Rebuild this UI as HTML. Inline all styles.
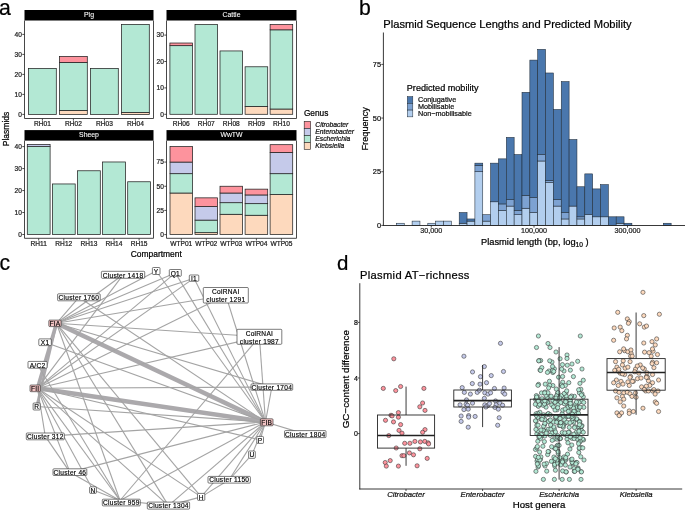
<!DOCTYPE html>
<html><head><meta charset="utf-8"><style>
html,body{margin:0;padding:0;background:#fff;overflow:hidden;}
svg{display:block;font-family:"Liberation Sans", sans-serif;will-change:transform;}

</style></head><body>
<svg width="685" height="511" viewBox="0 0 685 511">
<rect width="685" height="511" fill="#fff"/>
<text x="-0.90" y="15.20" font-size="21.2" text-anchor="start" fill="#000" stroke="#000" stroke-width="0.22" >a</text>
<rect x="24.50" y="10.00" width="129.00" height="10.50" fill="#000" stroke="none" stroke-width="0" />
<text x="89.00" y="17.30" font-size="6.9" text-anchor="middle" fill="#fff" stroke="#fff" stroke-width="0.08" >Pig</text>
<rect x="28.50" y="68.40" width="27.80" height="46.00" fill="#B3E8D4" stroke="#222" stroke-width="0.75" />
<line x1="42.40" y1="118.50" x2="42.40" y2="120.70" stroke="#222" stroke-width="0.8" />
<text x="42.40" y="125.90" font-size="6.6" text-anchor="middle" fill="#222" stroke="#222" stroke-width="0.22" >RH01</text>
<rect x="59.50" y="110.40" width="27.80" height="4.00" fill="#FDD9BD" stroke="#222" stroke-width="0.75" />
<rect x="59.50" y="62.40" width="27.80" height="48.00" fill="#B3E8D4" stroke="#222" stroke-width="0.75" />
<rect x="59.50" y="56.40" width="27.80" height="6.00" fill="#FD939D" stroke="#222" stroke-width="0.75" />
<line x1="73.40" y1="118.50" x2="73.40" y2="120.70" stroke="#222" stroke-width="0.8" />
<text x="73.40" y="125.90" font-size="6.6" text-anchor="middle" fill="#222" stroke="#222" stroke-width="0.22" >RH02</text>
<rect x="90.50" y="68.40" width="27.80" height="46.00" fill="#B3E8D4" stroke="#222" stroke-width="0.75" />
<line x1="104.40" y1="118.50" x2="104.40" y2="120.70" stroke="#222" stroke-width="0.8" />
<text x="104.40" y="125.90" font-size="6.6" text-anchor="middle" fill="#222" stroke="#222" stroke-width="0.22" >RH03</text>
<rect x="121.50" y="112.40" width="27.80" height="2.00" fill="#FDD9BD" stroke="#222" stroke-width="0.75" />
<rect x="121.50" y="24.40" width="27.80" height="88.00" fill="#B3E8D4" stroke="#222" stroke-width="0.75" />
<line x1="135.40" y1="118.50" x2="135.40" y2="120.70" stroke="#222" stroke-width="0.8" />
<text x="135.40" y="125.90" font-size="6.6" text-anchor="middle" fill="#222" stroke="#222" stroke-width="0.22" >RH04</text>
<path d="M24.50,20.50 V118.50 H153.50 V20.50" fill="none" stroke="#333333" stroke-width="0.9"/>
<line x1="22.30" y1="114.40" x2="24.50" y2="114.40" stroke="#222" stroke-width="0.8" />
<text x="21.90" y="116.70" font-size="6.6" text-anchor="end" fill="#222" stroke="#222" stroke-width="0.22" >0</text>
<line x1="22.30" y1="94.40" x2="24.50" y2="94.40" stroke="#222" stroke-width="0.8" />
<text x="21.90" y="96.70" font-size="6.6" text-anchor="end" fill="#222" stroke="#222" stroke-width="0.22" >10</text>
<line x1="22.30" y1="74.40" x2="24.50" y2="74.40" stroke="#222" stroke-width="0.8" />
<text x="21.90" y="76.70" font-size="6.6" text-anchor="end" fill="#222" stroke="#222" stroke-width="0.22" >20</text>
<line x1="22.30" y1="54.40" x2="24.50" y2="54.40" stroke="#222" stroke-width="0.8" />
<text x="21.90" y="56.70" font-size="6.6" text-anchor="end" fill="#222" stroke="#222" stroke-width="0.22" >30</text>
<line x1="22.30" y1="34.40" x2="24.50" y2="34.40" stroke="#222" stroke-width="0.8" />
<text x="21.90" y="36.70" font-size="6.6" text-anchor="end" fill="#222" stroke="#222" stroke-width="0.22" >40</text>
<rect x="166.50" y="10.00" width="130.00" height="10.50" fill="#000" stroke="none" stroke-width="0" />
<text x="231.50" y="17.30" font-size="6.9" text-anchor="middle" fill="#fff" stroke="#fff" stroke-width="0.08" >Cattle</text>
<rect x="169.90" y="45.66" width="22.60" height="68.64" fill="#B3E8D4" stroke="#222" stroke-width="0.75" />
<rect x="169.90" y="43.02" width="22.60" height="2.64" fill="#FD939D" stroke="#222" stroke-width="0.75" />
<line x1="181.20" y1="118.50" x2="181.20" y2="120.70" stroke="#222" stroke-width="0.8" />
<text x="181.20" y="125.90" font-size="6.6" text-anchor="middle" fill="#222" stroke="#222" stroke-width="0.22" >RH06</text>
<rect x="195.00" y="24.54" width="22.60" height="89.76" fill="#B3E8D4" stroke="#222" stroke-width="0.75" />
<line x1="206.30" y1="118.50" x2="206.30" y2="120.70" stroke="#222" stroke-width="0.8" />
<text x="206.30" y="125.90" font-size="6.6" text-anchor="middle" fill="#222" stroke="#222" stroke-width="0.22" >RH07</text>
<rect x="220.00" y="50.94" width="22.60" height="63.36" fill="#B3E8D4" stroke="#222" stroke-width="0.75" />
<line x1="231.30" y1="118.50" x2="231.30" y2="120.70" stroke="#222" stroke-width="0.8" />
<text x="231.30" y="125.90" font-size="6.6" text-anchor="middle" fill="#222" stroke="#222" stroke-width="0.22" >RH08</text>
<rect x="245.10" y="106.38" width="22.60" height="7.92" fill="#FDD9BD" stroke="#222" stroke-width="0.75" />
<rect x="245.10" y="66.78" width="22.60" height="39.60" fill="#B3E8D4" stroke="#222" stroke-width="0.75" />
<line x1="256.40" y1="118.50" x2="256.40" y2="120.70" stroke="#222" stroke-width="0.8" />
<text x="256.40" y="125.90" font-size="6.6" text-anchor="middle" fill="#222" stroke="#222" stroke-width="0.22" >RH09</text>
<rect x="270.10" y="109.02" width="22.60" height="5.28" fill="#FDD9BD" stroke="#222" stroke-width="0.75" />
<rect x="270.10" y="29.82" width="22.60" height="79.20" fill="#B3E8D4" stroke="#222" stroke-width="0.75" />
<rect x="270.10" y="24.54" width="22.60" height="5.28" fill="#FD939D" stroke="#222" stroke-width="0.75" />
<line x1="281.40" y1="118.50" x2="281.40" y2="120.70" stroke="#222" stroke-width="0.8" />
<text x="281.40" y="125.90" font-size="6.6" text-anchor="middle" fill="#222" stroke="#222" stroke-width="0.22" >RH10</text>
<path d="M166.50,20.50 V118.50 H296.50 V20.50" fill="none" stroke="#333333" stroke-width="0.9"/>
<line x1="164.30" y1="114.30" x2="166.50" y2="114.30" stroke="#222" stroke-width="0.8" />
<text x="163.90" y="116.60" font-size="6.6" text-anchor="end" fill="#222" stroke="#222" stroke-width="0.22" >0</text>
<line x1="164.30" y1="87.90" x2="166.50" y2="87.90" stroke="#222" stroke-width="0.8" />
<text x="163.90" y="90.20" font-size="6.6" text-anchor="end" fill="#222" stroke="#222" stroke-width="0.22" >10</text>
<line x1="164.30" y1="61.50" x2="166.50" y2="61.50" stroke="#222" stroke-width="0.8" />
<text x="163.90" y="63.80" font-size="6.6" text-anchor="end" fill="#222" stroke="#222" stroke-width="0.22" >20</text>
<line x1="164.30" y1="35.10" x2="166.50" y2="35.10" stroke="#222" stroke-width="0.8" />
<text x="163.90" y="37.40" font-size="6.6" text-anchor="end" fill="#222" stroke="#222" stroke-width="0.22" >30</text>
<rect x="24.50" y="130.10" width="129.00" height="10.50" fill="#000" stroke="none" stroke-width="0" />
<text x="89.00" y="137.40" font-size="6.9" text-anchor="middle" fill="#fff" stroke="#fff" stroke-width="0.08" >Sheep</text>
<rect x="27.30" y="146.60" width="22.80" height="87.90" fill="#B3E8D4" stroke="#222" stroke-width="0.75" />
<rect x="27.30" y="144.40" width="22.80" height="2.20" fill="#C5CAEA" stroke="#222" stroke-width="0.75" />
<line x1="38.70" y1="238.30" x2="38.70" y2="240.50" stroke="#222" stroke-width="0.8" />
<text x="38.70" y="245.70" font-size="6.6" text-anchor="middle" fill="#222" stroke="#222" stroke-width="0.22" >RH11</text>
<rect x="52.40" y="183.96" width="22.80" height="50.54" fill="#B3E8D4" stroke="#222" stroke-width="0.75" />
<line x1="63.80" y1="238.30" x2="63.80" y2="240.50" stroke="#222" stroke-width="0.8" />
<text x="63.80" y="245.70" font-size="6.6" text-anchor="middle" fill="#222" stroke="#222" stroke-width="0.22" >RH12</text>
<rect x="77.50" y="170.77" width="22.80" height="63.73" fill="#B3E8D4" stroke="#222" stroke-width="0.75" />
<line x1="88.90" y1="238.30" x2="88.90" y2="240.50" stroke="#222" stroke-width="0.8" />
<text x="88.90" y="245.70" font-size="6.6" text-anchor="middle" fill="#222" stroke="#222" stroke-width="0.22" >RH13</text>
<rect x="102.60" y="161.98" width="22.80" height="72.52" fill="#B3E8D4" stroke="#222" stroke-width="0.75" />
<line x1="114.00" y1="238.30" x2="114.00" y2="240.50" stroke="#222" stroke-width="0.8" />
<text x="114.00" y="245.70" font-size="6.6" text-anchor="middle" fill="#222" stroke="#222" stroke-width="0.22" >RH14</text>
<rect x="127.70" y="181.76" width="22.80" height="52.74" fill="#B3E8D4" stroke="#222" stroke-width="0.75" />
<line x1="139.10" y1="238.30" x2="139.10" y2="240.50" stroke="#222" stroke-width="0.8" />
<text x="139.10" y="245.70" font-size="6.6" text-anchor="middle" fill="#222" stroke="#222" stroke-width="0.22" >RH15</text>
<path d="M24.50,140.60 V238.30 H153.50 V140.60" fill="none" stroke="#333333" stroke-width="0.9"/>
<line x1="22.30" y1="234.50" x2="24.50" y2="234.50" stroke="#222" stroke-width="0.8" />
<text x="21.90" y="236.80" font-size="6.6" text-anchor="end" fill="#222" stroke="#222" stroke-width="0.22" >0</text>
<line x1="22.30" y1="212.53" x2="24.50" y2="212.53" stroke="#222" stroke-width="0.8" />
<text x="21.90" y="214.83" font-size="6.6" text-anchor="end" fill="#222" stroke="#222" stroke-width="0.22" >10</text>
<line x1="22.30" y1="190.55" x2="24.50" y2="190.55" stroke="#222" stroke-width="0.8" />
<text x="21.90" y="192.85" font-size="6.6" text-anchor="end" fill="#222" stroke="#222" stroke-width="0.22" >20</text>
<line x1="22.30" y1="168.57" x2="24.50" y2="168.57" stroke="#222" stroke-width="0.8" />
<text x="21.90" y="170.88" font-size="6.6" text-anchor="end" fill="#222" stroke="#222" stroke-width="0.22" >30</text>
<line x1="22.30" y1="146.60" x2="24.50" y2="146.60" stroke="#222" stroke-width="0.8" />
<text x="21.90" y="148.90" font-size="6.6" text-anchor="end" fill="#222" stroke="#222" stroke-width="0.22" >40</text>
<rect x="166.50" y="130.10" width="130.00" height="10.50" fill="#000" stroke="none" stroke-width="0" />
<text x="231.50" y="137.40" font-size="6.9" text-anchor="middle" fill="#fff" stroke="#fff" stroke-width="0.08" >WwTW</text>
<rect x="170.00" y="193.02" width="22.60" height="41.58" fill="#FDD9BD" stroke="#222" stroke-width="0.75" />
<rect x="170.00" y="173.68" width="22.60" height="19.34" fill="#B3E8D4" stroke="#222" stroke-width="0.75" />
<rect x="170.00" y="162.07" width="22.60" height="11.60" fill="#C5CAEA" stroke="#222" stroke-width="0.75" />
<rect x="170.00" y="146.60" width="22.60" height="15.47" fill="#FD939D" stroke="#222" stroke-width="0.75" />
<line x1="181.30" y1="238.30" x2="181.30" y2="240.50" stroke="#222" stroke-width="0.8" />
<text x="181.30" y="245.70" font-size="6.6" text-anchor="middle" fill="#222" stroke="#222" stroke-width="0.22" >WTP01</text>
<rect x="195.00" y="232.67" width="22.60" height="1.93" fill="#FDD9BD" stroke="#222" stroke-width="0.75" />
<rect x="195.00" y="220.09" width="22.60" height="12.57" fill="#B3E8D4" stroke="#222" stroke-width="0.75" />
<rect x="195.00" y="206.56" width="22.60" height="13.54" fill="#C5CAEA" stroke="#222" stroke-width="0.75" />
<rect x="195.00" y="197.85" width="22.60" height="8.70" fill="#FD939D" stroke="#222" stroke-width="0.75" />
<line x1="206.30" y1="238.30" x2="206.30" y2="240.50" stroke="#222" stroke-width="0.8" />
<text x="206.30" y="245.70" font-size="6.6" text-anchor="middle" fill="#222" stroke="#222" stroke-width="0.22" >WTP02</text>
<rect x="220.00" y="214.29" width="22.60" height="20.31" fill="#FDD9BD" stroke="#222" stroke-width="0.75" />
<rect x="220.00" y="202.69" width="22.60" height="11.60" fill="#B3E8D4" stroke="#222" stroke-width="0.75" />
<rect x="220.00" y="193.02" width="22.60" height="9.67" fill="#C5CAEA" stroke="#222" stroke-width="0.75" />
<rect x="220.00" y="186.25" width="22.60" height="6.77" fill="#FD939D" stroke="#222" stroke-width="0.75" />
<line x1="231.30" y1="238.30" x2="231.30" y2="240.50" stroke="#222" stroke-width="0.8" />
<text x="231.30" y="245.70" font-size="6.6" text-anchor="middle" fill="#222" stroke="#222" stroke-width="0.22" >WTP03</text>
<rect x="245.10" y="215.26" width="22.60" height="19.34" fill="#FDD9BD" stroke="#222" stroke-width="0.75" />
<rect x="245.10" y="203.66" width="22.60" height="11.60" fill="#B3E8D4" stroke="#222" stroke-width="0.75" />
<rect x="245.10" y="194.95" width="22.60" height="8.70" fill="#C5CAEA" stroke="#222" stroke-width="0.75" />
<rect x="245.10" y="189.15" width="22.60" height="5.80" fill="#FD939D" stroke="#222" stroke-width="0.75" />
<line x1="256.40" y1="238.30" x2="256.40" y2="240.50" stroke="#222" stroke-width="0.8" />
<text x="256.40" y="245.70" font-size="6.6" text-anchor="middle" fill="#222" stroke="#222" stroke-width="0.22" >WTP04</text>
<rect x="270.10" y="194.47" width="22.60" height="40.13" fill="#FDD9BD" stroke="#222" stroke-width="0.75" />
<rect x="270.10" y="173.68" width="22.60" height="20.79" fill="#B3E8D4" stroke="#222" stroke-width="0.75" />
<rect x="270.10" y="152.41" width="22.60" height="21.27" fill="#C5CAEA" stroke="#222" stroke-width="0.75" />
<rect x="270.10" y="144.67" width="22.60" height="7.74" fill="#FD939D" stroke="#222" stroke-width="0.75" />
<line x1="281.40" y1="238.30" x2="281.40" y2="240.50" stroke="#222" stroke-width="0.8" />
<text x="281.40" y="245.70" font-size="6.6" text-anchor="middle" fill="#222" stroke="#222" stroke-width="0.22" >WTP05</text>
<path d="M166.50,140.60 V238.30 H296.50 V140.60" fill="none" stroke="#333333" stroke-width="0.9"/>
<line x1="164.30" y1="234.60" x2="166.50" y2="234.60" stroke="#222" stroke-width="0.8" />
<text x="163.90" y="236.90" font-size="6.6" text-anchor="end" fill="#222" stroke="#222" stroke-width="0.22" >0</text>
<line x1="164.30" y1="210.42" x2="166.50" y2="210.42" stroke="#222" stroke-width="0.8" />
<text x="163.90" y="212.72" font-size="6.6" text-anchor="end" fill="#222" stroke="#222" stroke-width="0.22" >25</text>
<line x1="164.30" y1="186.25" x2="166.50" y2="186.25" stroke="#222" stroke-width="0.8" />
<text x="163.90" y="188.55" font-size="6.6" text-anchor="end" fill="#222" stroke="#222" stroke-width="0.22" >50</text>
<line x1="164.30" y1="162.07" x2="166.50" y2="162.07" stroke="#222" stroke-width="0.8" />
<text x="163.90" y="164.38" font-size="6.6" text-anchor="end" fill="#222" stroke="#222" stroke-width="0.22" >75</text>
<text x="0" y="0" font-size="8.5" text-anchor="middle" transform="translate(8.6,129) rotate(-90)" stroke="#000" stroke-width="0.22">Plasmids</text>
<text x="156.30" y="257.00" font-size="8.45" text-anchor="middle" fill="#000" stroke="#000" stroke-width="0.22" >Compartment</text>
<text x="303.90" y="115.90" font-size="8.3" text-anchor="start" fill="#000" stroke="#000" stroke-width="0.22" >Genus</text>
<rect x="304.20" y="121.30" width="6.40" height="7.05" fill="#FD939D" stroke="#222" stroke-width="0.6" />
<text x="315.30" y="127.20" font-size="6.75" text-anchor="start" fill="#111" stroke="#111" stroke-width="0.22" font-style="italic">Citrobacter</text>
<rect x="304.20" y="128.35" width="6.40" height="7.05" fill="#C5CAEA" stroke="#222" stroke-width="0.6" />
<text x="315.30" y="134.25" font-size="6.75" text-anchor="start" fill="#111" stroke="#111" stroke-width="0.22" font-style="italic">Enterobacter</text>
<rect x="304.20" y="135.40" width="6.40" height="7.05" fill="#B3E8D4" stroke="#222" stroke-width="0.6" />
<text x="315.30" y="141.30" font-size="6.75" text-anchor="start" fill="#111" stroke="#111" stroke-width="0.22" font-style="italic">Escherichia</text>
<rect x="304.20" y="142.45" width="6.40" height="7.05" fill="#FDD9BD" stroke="#222" stroke-width="0.6" />
<text x="315.30" y="148.35" font-size="6.75" text-anchor="start" fill="#111" stroke="#111" stroke-width="0.22" font-style="italic">Klebsiella</text>
<text x="358.90" y="15.00" font-size="21.2" text-anchor="start" fill="#000" stroke="#000" stroke-width="0.22" >b</text>
<text x="383.30" y="27.75" font-size="11.15" text-anchor="start" fill="#000" stroke="#000" stroke-width="0.22" >Plasmid Sequence Lengths and Predicted Mobility</text>
<rect x="396.40" y="223.25" width="7.85" height="2.15" fill="#B2CEEE" stroke="#1f2a36" stroke-width="0.55" />
<rect x="412.10" y="221.11" width="7.85" height="4.29" fill="#B2CEEE" stroke="#1f2a36" stroke-width="0.55" />
<rect x="427.80" y="223.25" width="7.85" height="2.15" fill="#B2CEEE" stroke="#1f2a36" stroke-width="0.55" />
<rect x="435.65" y="221.11" width="7.85" height="4.29" fill="#B2CEEE" stroke="#1f2a36" stroke-width="0.55" />
<rect x="443.50" y="221.11" width="7.85" height="4.29" fill="#B2CEEE" stroke="#1f2a36" stroke-width="0.55" />
<rect x="459.20" y="223.25" width="7.85" height="2.15" fill="#B2CEEE" stroke="#1f2a36" stroke-width="0.55" />
<rect x="459.20" y="212.52" width="7.85" height="10.73" fill="#4A77AD" stroke="#1f2a36" stroke-width="0.55" />
<rect x="467.05" y="221.11" width="7.85" height="4.29" fill="#B2CEEE" stroke="#1f2a36" stroke-width="0.55" />
<rect x="467.05" y="218.96" width="7.85" height="2.15" fill="#4A77AD" stroke="#1f2a36" stroke-width="0.55" />
<rect x="474.90" y="171.73" width="7.85" height="53.67" fill="#B2CEEE" stroke="#1f2a36" stroke-width="0.55" />
<rect x="474.90" y="165.29" width="7.85" height="6.44" fill="#7DA2D2" stroke="#1f2a36" stroke-width="0.55" />
<rect x="474.90" y="163.15" width="7.85" height="2.15" fill="#4A77AD" stroke="#1f2a36" stroke-width="0.55" />
<rect x="482.75" y="221.11" width="7.85" height="4.29" fill="#B2CEEE" stroke="#1f2a36" stroke-width="0.55" />
<rect x="482.75" y="214.67" width="7.85" height="6.44" fill="#7DA2D2" stroke="#1f2a36" stroke-width="0.55" />
<rect x="490.60" y="201.79" width="7.85" height="23.61" fill="#B2CEEE" stroke="#1f2a36" stroke-width="0.55" />
<rect x="490.60" y="163.15" width="7.85" height="38.64" fill="#4A77AD" stroke="#1f2a36" stroke-width="0.55" />
<rect x="498.45" y="210.37" width="7.85" height="15.03" fill="#B2CEEE" stroke="#1f2a36" stroke-width="0.55" />
<rect x="498.45" y="203.93" width="7.85" height="6.44" fill="#7DA2D2" stroke="#1f2a36" stroke-width="0.55" />
<rect x="498.45" y="158.85" width="7.85" height="45.08" fill="#4A77AD" stroke="#1f2a36" stroke-width="0.55" />
<rect x="506.30" y="206.08" width="7.85" height="19.32" fill="#B2CEEE" stroke="#1f2a36" stroke-width="0.55" />
<rect x="506.30" y="199.64" width="7.85" height="6.44" fill="#7DA2D2" stroke="#1f2a36" stroke-width="0.55" />
<rect x="506.30" y="137.39" width="7.85" height="62.25" fill="#4A77AD" stroke="#1f2a36" stroke-width="0.55" />
<rect x="514.15" y="214.67" width="7.85" height="10.73" fill="#B2CEEE" stroke="#1f2a36" stroke-width="0.55" />
<rect x="514.15" y="210.37" width="7.85" height="4.29" fill="#7DA2D2" stroke="#1f2a36" stroke-width="0.55" />
<rect x="514.15" y="154.56" width="7.85" height="55.81" fill="#4A77AD" stroke="#1f2a36" stroke-width="0.55" />
<rect x="522.00" y="208.23" width="7.85" height="17.17" fill="#B2CEEE" stroke="#1f2a36" stroke-width="0.55" />
<rect x="522.00" y="195.35" width="7.85" height="12.88" fill="#7DA2D2" stroke="#1f2a36" stroke-width="0.55" />
<rect x="522.00" y="92.30" width="7.85" height="103.04" fill="#4A77AD" stroke="#1f2a36" stroke-width="0.55" />
<rect x="529.85" y="212.52" width="7.85" height="12.88" fill="#B2CEEE" stroke="#1f2a36" stroke-width="0.55" />
<rect x="529.85" y="197.49" width="7.85" height="15.03" fill="#7DA2D2" stroke="#1f2a36" stroke-width="0.55" />
<rect x="529.85" y="60.10" width="7.85" height="137.39" fill="#4A77AD" stroke="#1f2a36" stroke-width="0.55" />
<rect x="537.70" y="161.00" width="7.85" height="64.40" fill="#B2CEEE" stroke="#1f2a36" stroke-width="0.55" />
<rect x="537.70" y="154.56" width="7.85" height="6.44" fill="#7DA2D2" stroke="#1f2a36" stroke-width="0.55" />
<rect x="537.70" y="49.37" width="7.85" height="105.19" fill="#4A77AD" stroke="#1f2a36" stroke-width="0.55" />
<rect x="545.55" y="182.47" width="7.85" height="42.93" fill="#B2CEEE" stroke="#1f2a36" stroke-width="0.55" />
<rect x="545.55" y="180.32" width="7.85" height="2.15" fill="#7DA2D2" stroke="#1f2a36" stroke-width="0.55" />
<rect x="545.55" y="72.98" width="7.85" height="107.34" fill="#4A77AD" stroke="#1f2a36" stroke-width="0.55" />
<rect x="553.40" y="206.08" width="7.85" height="19.32" fill="#B2CEEE" stroke="#1f2a36" stroke-width="0.55" />
<rect x="553.40" y="199.64" width="7.85" height="6.44" fill="#7DA2D2" stroke="#1f2a36" stroke-width="0.55" />
<rect x="553.40" y="109.48" width="7.85" height="90.16" fill="#4A77AD" stroke="#1f2a36" stroke-width="0.55" />
<rect x="561.25" y="218.96" width="7.85" height="6.44" fill="#B2CEEE" stroke="#1f2a36" stroke-width="0.55" />
<rect x="561.25" y="212.52" width="7.85" height="6.44" fill="#7DA2D2" stroke="#1f2a36" stroke-width="0.55" />
<rect x="561.25" y="81.57" width="7.85" height="130.95" fill="#4A77AD" stroke="#1f2a36" stroke-width="0.55" />
<rect x="569.10" y="206.08" width="7.85" height="19.32" fill="#B2CEEE" stroke="#1f2a36" stroke-width="0.55" />
<rect x="569.10" y="139.53" width="7.85" height="66.55" fill="#4A77AD" stroke="#1f2a36" stroke-width="0.55" />
<rect x="576.95" y="218.96" width="7.85" height="6.44" fill="#B2CEEE" stroke="#1f2a36" stroke-width="0.55" />
<rect x="576.95" y="216.81" width="7.85" height="2.15" fill="#7DA2D2" stroke="#1f2a36" stroke-width="0.55" />
<rect x="576.95" y="186.76" width="7.85" height="30.05" fill="#4A77AD" stroke="#1f2a36" stroke-width="0.55" />
<rect x="584.80" y="214.67" width="7.85" height="10.73" fill="#B2CEEE" stroke="#1f2a36" stroke-width="0.55" />
<rect x="584.80" y="173.88" width="7.85" height="40.79" fill="#4A77AD" stroke="#1f2a36" stroke-width="0.55" />
<rect x="592.65" y="216.81" width="7.85" height="8.59" fill="#B2CEEE" stroke="#1f2a36" stroke-width="0.55" />
<rect x="592.65" y="188.91" width="7.85" height="27.91" fill="#4A77AD" stroke="#1f2a36" stroke-width="0.55" />
<rect x="600.50" y="216.81" width="7.85" height="8.59" fill="#B2CEEE" stroke="#1f2a36" stroke-width="0.55" />
<rect x="600.50" y="184.61" width="7.85" height="32.20" fill="#4A77AD" stroke="#1f2a36" stroke-width="0.55" />
<rect x="608.35" y="216.81" width="7.85" height="8.59" fill="#4A77AD" stroke="#1f2a36" stroke-width="0.55" />
<rect x="616.20" y="223.25" width="7.85" height="2.15" fill="#B2CEEE" stroke="#1f2a36" stroke-width="0.55" />
<rect x="616.20" y="216.81" width="7.85" height="6.44" fill="#4A77AD" stroke="#1f2a36" stroke-width="0.55" />
<rect x="624.05" y="223.25" width="7.85" height="2.15" fill="#4A77AD" stroke="#1f2a36" stroke-width="0.55" />
<rect x="663.30" y="223.25" width="7.85" height="2.15" fill="#4A77AD" stroke="#1f2a36" stroke-width="0.55" />
<line x1="383.40" y1="32.50" x2="383.40" y2="225.90" stroke="#222" stroke-width="0.9" />
<line x1="383.00" y1="225.50" x2="685.00" y2="225.50" stroke="#222" stroke-width="0.9" />
<line x1="381.30" y1="225.40" x2="383.40" y2="225.40" stroke="#222" stroke-width="0.8" />
<text x="381.00" y="228.10" font-size="7.4" text-anchor="end" fill="#111" stroke="#111" stroke-width="0.22" >0</text>
<line x1="381.30" y1="171.73" x2="383.40" y2="171.73" stroke="#222" stroke-width="0.8" />
<text x="381.00" y="174.43" font-size="7.4" text-anchor="end" fill="#111" stroke="#111" stroke-width="0.22" >25</text>
<line x1="381.30" y1="118.06" x2="383.40" y2="118.06" stroke="#222" stroke-width="0.8" />
<text x="381.00" y="120.77" font-size="7.4" text-anchor="end" fill="#111" stroke="#111" stroke-width="0.22" >50</text>
<line x1="381.30" y1="64.40" x2="383.40" y2="64.40" stroke="#222" stroke-width="0.8" />
<text x="381.00" y="67.10" font-size="7.4" text-anchor="end" fill="#111" stroke="#111" stroke-width="0.22" >75</text>
<line x1="431.25" y1="225.50" x2="431.25" y2="227.60" stroke="#222" stroke-width="0.8" />
<text x="431.25" y="233.00" font-size="7.2" text-anchor="middle" fill="#222" stroke="#222" stroke-width="0.22" >30,000</text>
<line x1="534.00" y1="225.50" x2="534.00" y2="227.60" stroke="#222" stroke-width="0.8" />
<text x="534.00" y="233.00" font-size="7.2" text-anchor="middle" fill="#222" stroke="#222" stroke-width="0.22" >100,000</text>
<line x1="627.50" y1="225.50" x2="627.50" y2="227.60" stroke="#222" stroke-width="0.8" />
<text x="627.50" y="233.00" font-size="7.2" text-anchor="middle" fill="#222" stroke="#222" stroke-width="0.22" >300,000</text>
<text x="0" y="0" font-size="9.2" text-anchor="middle" transform="translate(367.7,128.8) rotate(-90)" stroke="#000" stroke-width="0.22">Frequency</text>
<text x="481" y="244.7" font-size="9.3" stroke="#000" stroke-width="0.22">Plasmid length (bp, log<tspan font-size="6.6" dy="1.8">10</tspan><tspan dy="-1.8"> )</tspan></text>
<text x="406.80" y="90.80" font-size="9.1" text-anchor="start" fill="#000" stroke="#000" stroke-width="0.22" >Predicted mobility</text>
<rect x="407.30" y="96.60" width="5.50" height="6.75" fill="#4A77AD" stroke="#1f2a36" stroke-width="0.5" />
<text x="417.90" y="102.00" font-size="7.25" text-anchor="start" fill="#111" stroke="#111" stroke-width="0.22" >Conjugative</text>
<rect x="407.30" y="103.35" width="5.50" height="6.75" fill="#7DA2D2" stroke="#1f2a36" stroke-width="0.5" />
<text x="417.90" y="108.75" font-size="7.25" text-anchor="start" fill="#111" stroke="#111" stroke-width="0.22" >Mobilisable</text>
<rect x="407.30" y="110.10" width="5.50" height="6.75" fill="#B2CEEE" stroke="#1f2a36" stroke-width="0.5" />
<text x="417.90" y="115.50" font-size="7.25" text-anchor="start" fill="#111" stroke="#111" stroke-width="0.22" >Non−mobilisable</text>
<text x="-0.40" y="270.00" font-size="21.2" text-anchor="start" fill="#000" stroke="#000" stroke-width="0.22" >c</text>
<line x1="56.50" y1="323.30" x2="265.50" y2="422.00" stroke="#aba9ac" stroke-width="4.4"/>
<line x1="37.50" y1="388.20" x2="265.50" y2="422.00" stroke="#aba9ac" stroke-width="4.4"/>
<line x1="56.50" y1="323.30" x2="37.50" y2="388.20" stroke="#aba9ac" stroke-width="3.6"/>
<line x1="56.50" y1="323.30" x2="36.65" y2="406.50" stroke="#aba9ac" stroke-width="2.6"/>
<line x1="265.50" y1="422.00" x2="156.20" y2="271.00" stroke="#a4a4a4" stroke-width="1.1"/>
<line x1="265.50" y1="422.00" x2="175.30" y2="272.90" stroke="#a4a4a4" stroke-width="1.1"/>
<line x1="265.50" y1="422.00" x2="194.05" y2="278.15" stroke="#a4a4a4" stroke-width="1.1"/>
<line x1="265.50" y1="422.00" x2="225.80" y2="295.25" stroke="#a4a4a4" stroke-width="1.1"/>
<line x1="265.50" y1="422.00" x2="259.40" y2="336.80" stroke="#a4a4a4" stroke-width="1.1"/>
<line x1="265.50" y1="422.00" x2="271.85" y2="387.10" stroke="#a4a4a4" stroke-width="1.1"/>
<line x1="265.50" y1="422.00" x2="78.90" y2="297.30" stroke="#a4a4a4" stroke-width="1.1"/>
<line x1="265.50" y1="422.00" x2="45.05" y2="342.25" stroke="#a4a4a4" stroke-width="1.1"/>
<line x1="265.50" y1="422.00" x2="36.65" y2="406.50" stroke="#a4a4a4" stroke-width="1.1"/>
<line x1="265.50" y1="422.00" x2="45.30" y2="436.40" stroke="#a4a4a4" stroke-width="1.1"/>
<line x1="265.50" y1="422.00" x2="69.90" y2="472.15" stroke="#a4a4a4" stroke-width="1.1"/>
<line x1="265.50" y1="422.00" x2="120.00" y2="500.50" stroke="#a4a4a4" stroke-width="1.1"/>
<line x1="265.50" y1="422.00" x2="168.45" y2="505.60" stroke="#a4a4a4" stroke-width="1.1"/>
<line x1="265.50" y1="422.00" x2="201.15" y2="496.90" stroke="#a4a4a4" stroke-width="1.1"/>
<line x1="265.50" y1="422.00" x2="229.20" y2="479.75" stroke="#a4a4a4" stroke-width="1.1"/>
<line x1="265.50" y1="422.00" x2="251.95" y2="454.65" stroke="#a4a4a4" stroke-width="1.1"/>
<line x1="265.50" y1="422.00" x2="260.15" y2="439.90" stroke="#a4a4a4" stroke-width="1.1"/>
<line x1="265.50" y1="422.00" x2="305.25" y2="434.10" stroke="#a4a4a4" stroke-width="1.1"/>
<line x1="56.50" y1="323.30" x2="78.90" y2="297.30" stroke="#a4a4a4" stroke-width="1.1"/>
<line x1="56.50" y1="323.30" x2="123.05" y2="274.80" stroke="#a4a4a4" stroke-width="1.1"/>
<line x1="56.50" y1="323.30" x2="156.20" y2="271.00" stroke="#a4a4a4" stroke-width="1.1"/>
<line x1="56.50" y1="323.30" x2="175.30" y2="272.90" stroke="#a4a4a4" stroke-width="1.1"/>
<line x1="56.50" y1="323.30" x2="194.05" y2="278.15" stroke="#a4a4a4" stroke-width="1.1"/>
<line x1="56.50" y1="323.30" x2="225.80" y2="295.25" stroke="#a4a4a4" stroke-width="1.1"/>
<line x1="56.50" y1="323.30" x2="259.40" y2="336.80" stroke="#a4a4a4" stroke-width="1.1"/>
<line x1="56.50" y1="323.30" x2="271.85" y2="387.10" stroke="#a4a4a4" stroke-width="1.1"/>
<line x1="56.50" y1="323.30" x2="120.00" y2="500.50" stroke="#a4a4a4" stroke-width="1.1"/>
<line x1="56.50" y1="323.30" x2="168.45" y2="505.60" stroke="#a4a4a4" stroke-width="1.1"/>
<line x1="56.50" y1="323.30" x2="201.15" y2="496.90" stroke="#a4a4a4" stroke-width="1.1"/>
<line x1="37.50" y1="388.20" x2="123.05" y2="274.80" stroke="#a4a4a4" stroke-width="1.1"/>
<line x1="37.50" y1="388.20" x2="175.30" y2="272.90" stroke="#a4a4a4" stroke-width="1.1"/>
<line x1="37.50" y1="388.20" x2="194.05" y2="278.15" stroke="#a4a4a4" stroke-width="1.1"/>
<line x1="37.50" y1="388.20" x2="225.80" y2="295.25" stroke="#a4a4a4" stroke-width="1.1"/>
<line x1="37.50" y1="388.20" x2="259.40" y2="336.80" stroke="#a4a4a4" stroke-width="1.1"/>
<line x1="37.50" y1="388.20" x2="271.85" y2="387.10" stroke="#a4a4a4" stroke-width="1.1"/>
<line x1="37.50" y1="388.20" x2="260.15" y2="439.90" stroke="#a4a4a4" stroke-width="1.1"/>
<line x1="37.50" y1="388.20" x2="45.30" y2="436.40" stroke="#a4a4a4" stroke-width="1.1"/>
<line x1="37.50" y1="388.20" x2="69.90" y2="472.15" stroke="#a4a4a4" stroke-width="1.1"/>
<line x1="37.50" y1="388.20" x2="93.00" y2="490.10" stroke="#a4a4a4" stroke-width="1.1"/>
<line x1="37.50" y1="388.20" x2="120.00" y2="500.50" stroke="#a4a4a4" stroke-width="1.1"/>
<line x1="37.50" y1="388.20" x2="168.45" y2="505.60" stroke="#a4a4a4" stroke-width="1.1"/>
<line x1="37.50" y1="388.20" x2="201.15" y2="496.90" stroke="#a4a4a4" stroke-width="1.1"/>
<line x1="45.30" y1="436.40" x2="69.90" y2="472.15" stroke="#a4a4a4" stroke-width="1.1"/>
<line x1="201.15" y1="496.90" x2="168.45" y2="505.60" stroke="#a4a4a4" stroke-width="1.1"/>
<line x1="201.15" y1="496.90" x2="229.20" y2="479.75" stroke="#a4a4a4" stroke-width="1.1"/>
<line x1="120.00" y1="500.50" x2="69.90" y2="472.15" stroke="#a4a4a4" stroke-width="1.1"/>
<line x1="120.00" y1="500.50" x2="37.55" y2="364.80" stroke="#a4a4a4" stroke-width="1.1"/>
<line x1="251.95" y1="454.65" x2="229.20" y2="479.75" stroke="#a4a4a4" stroke-width="1.1"/>
<line x1="120.00" y1="500.50" x2="259.40" y2="336.80" stroke="#a4a4a4" stroke-width="1.1"/>
<line x1="120.00" y1="500.50" x2="168.45" y2="505.60" stroke="#a4a4a4" stroke-width="1.1"/>
<line x1="120.00" y1="500.50" x2="93.00" y2="490.10" stroke="#a4a4a4" stroke-width="1.1"/>
<rect x="101.40" y="271.30" width="43.30" height="7.00" rx="0.9" fill="#ffffff" stroke="#222" stroke-width="0.6"/>
<text x="123.05" y="277.50" font-size="6.6" text-anchor="middle" fill="#000" stroke="#000" stroke-width="0.16" letter-spacing="0.27">Cluster 1418</text>
<rect x="152.40" y="267.50" width="7.60" height="7.00" rx="0.9" fill="#ffffff" stroke="#222" stroke-width="0.6"/>
<text x="156.20" y="273.70" font-size="6.6" text-anchor="middle" fill="#000" stroke="#000" stroke-width="0.16" letter-spacing="0.27">Y</text>
<rect x="169.30" y="269.50" width="12.00" height="6.80" rx="0.9" fill="#ffffff" stroke="#222" stroke-width="0.6"/>
<text x="175.30" y="275.60" font-size="6.6" text-anchor="middle" fill="#000" stroke="#000" stroke-width="0.16" letter-spacing="0.27">Q1</text>
<rect x="189.30" y="275.00" width="9.50" height="6.30" rx="0.9" fill="#ffffff" stroke="#222" stroke-width="0.6"/>
<text x="194.05" y="280.85" font-size="6.6" text-anchor="middle" fill="#000" stroke="#000" stroke-width="0.16" letter-spacing="0.27">I1</text>
<rect x="203.30" y="287.50" width="45.00" height="15.50" rx="0.9" fill="#ffffff" stroke="#222" stroke-width="0.6"/>
<text x="225.80" y="294.40" font-size="6.6" text-anchor="middle" fill="#000" stroke="#000" stroke-width="0.16" letter-spacing="0.27">ColRNAI</text>
<text x="225.80" y="301.80" font-size="6.6" text-anchor="middle" fill="#000" stroke="#000" stroke-width="0.16" letter-spacing="0.27">cluster 1291</text>
<rect x="237.00" y="329.30" width="44.80" height="15.00" rx="0.9" fill="#ffffff" stroke="#222" stroke-width="0.6"/>
<text x="259.40" y="336.20" font-size="6.6" text-anchor="middle" fill="#000" stroke="#000" stroke-width="0.16" letter-spacing="0.27">ColRNAI</text>
<text x="259.40" y="343.60" font-size="6.6" text-anchor="middle" fill="#000" stroke="#000" stroke-width="0.16" letter-spacing="0.27">cluster 1987</text>
<rect x="251.00" y="383.90" width="41.70" height="6.40" rx="0.9" fill="#ffffff" stroke="#222" stroke-width="0.6"/>
<text x="271.85" y="389.80" font-size="6.6" text-anchor="middle" fill="#000" stroke="#000" stroke-width="0.16" letter-spacing="0.27">Cluster 1704</text>
<rect x="260.40" y="418.80" width="12.60" height="7.00" rx="0.9" fill="#f4c4c4" stroke="#222" stroke-width="0.6"/>
<text x="266.70" y="425.00" font-size="6.6" text-anchor="middle" fill="#000" stroke="#000" stroke-width="0.16" letter-spacing="0.27">FIB</text>
<rect x="284.50" y="430.60" width="41.50" height="7.00" rx="0.9" fill="#ffffff" stroke="#222" stroke-width="0.6"/>
<text x="305.25" y="436.80" font-size="6.6" text-anchor="middle" fill="#000" stroke="#000" stroke-width="0.16" letter-spacing="0.27">Cluster 1804</text>
<rect x="256.80" y="436.40" width="6.70" height="7.00" rx="0.9" fill="#ffffff" stroke="#222" stroke-width="0.6"/>
<text x="260.15" y="442.60" font-size="6.6" text-anchor="middle" fill="#000" stroke="#000" stroke-width="0.16" letter-spacing="0.27">P</text>
<rect x="248.60" y="451.00" width="6.70" height="7.30" rx="0.9" fill="#ffffff" stroke="#222" stroke-width="0.6"/>
<text x="251.95" y="457.35" font-size="6.6" text-anchor="middle" fill="#000" stroke="#000" stroke-width="0.16" letter-spacing="0.27">U</text>
<rect x="208.00" y="476.40" width="42.40" height="6.70" rx="0.9" fill="#ffffff" stroke="#222" stroke-width="0.6"/>
<text x="229.20" y="482.45" font-size="6.6" text-anchor="middle" fill="#000" stroke="#000" stroke-width="0.16" letter-spacing="0.27">Cluster 1150</text>
<rect x="197.50" y="493.40" width="7.30" height="7.00" rx="0.9" fill="#ffffff" stroke="#222" stroke-width="0.6"/>
<text x="201.15" y="499.60" font-size="6.6" text-anchor="middle" fill="#000" stroke="#000" stroke-width="0.16" letter-spacing="0.27">H</text>
<rect x="147.30" y="502.10" width="42.30" height="7.00" rx="0.9" fill="#ffffff" stroke="#222" stroke-width="0.6"/>
<text x="168.45" y="508.30" font-size="6.6" text-anchor="middle" fill="#000" stroke="#000" stroke-width="0.16" letter-spacing="0.27">Cluster 1304</text>
<rect x="102.30" y="499.20" width="38.00" height="6.70" rx="0.9" fill="#ffffff" stroke="#222" stroke-width="0.6"/>
<text x="121.30" y="505.25" font-size="6.6" text-anchor="middle" fill="#000" stroke="#000" stroke-width="0.16" letter-spacing="0.27">Cluster 959</text>
<rect x="89.60" y="486.80" width="6.80" height="6.60" rx="0.9" fill="#ffffff" stroke="#222" stroke-width="0.6"/>
<text x="93.00" y="492.80" font-size="6.6" text-anchor="middle" fill="#000" stroke="#000" stroke-width="0.16" letter-spacing="0.27">N</text>
<rect x="53.00" y="468.80" width="33.80" height="6.70" rx="0.9" fill="#ffffff" stroke="#222" stroke-width="0.6"/>
<text x="69.90" y="474.85" font-size="6.6" text-anchor="middle" fill="#000" stroke="#000" stroke-width="0.16" letter-spacing="0.27">Cluster 46</text>
<rect x="26.30" y="433.00" width="38.00" height="6.80" rx="0.9" fill="#ffffff" stroke="#222" stroke-width="0.6"/>
<text x="45.30" y="439.10" font-size="6.6" text-anchor="middle" fill="#000" stroke="#000" stroke-width="0.16" letter-spacing="0.27">Cluster 312</text>
<rect x="33.10" y="403.00" width="7.10" height="7.00" rx="0.9" fill="#ffffff" stroke="#222" stroke-width="0.6"/>
<text x="36.65" y="409.20" font-size="6.6" text-anchor="middle" fill="#000" stroke="#000" stroke-width="0.16" letter-spacing="0.27">R</text>
<rect x="30.00" y="385.00" width="10.30" height="6.70" rx="0.9" fill="#f4c4c4" stroke="#222" stroke-width="0.6"/>
<text x="35.15" y="391.05" font-size="6.6" text-anchor="middle" fill="#000" stroke="#000" stroke-width="0.16" letter-spacing="0.27">FII</text>
<rect x="28.00" y="361.40" width="19.10" height="6.80" rx="0.9" fill="#ffffff" stroke="#222" stroke-width="0.6"/>
<text x="37.55" y="367.50" font-size="6.6" text-anchor="middle" fill="#000" stroke="#000" stroke-width="0.16" letter-spacing="0.27">A/C2</text>
<rect x="38.80" y="338.90" width="12.50" height="6.70" rx="0.9" fill="#ffffff" stroke="#222" stroke-width="0.6"/>
<text x="45.05" y="344.95" font-size="6.6" text-anchor="middle" fill="#000" stroke="#000" stroke-width="0.16" letter-spacing="0.27">X1</text>
<rect x="48.80" y="320.10" width="12.30" height="6.50" rx="0.9" fill="#f4c4c4" stroke="#222" stroke-width="0.6"/>
<text x="54.95" y="326.05" font-size="6.6" text-anchor="middle" fill="#000" stroke="#000" stroke-width="0.16" letter-spacing="0.27">FIA</text>
<rect x="57.60" y="293.80" width="42.60" height="7.00" rx="0.9" fill="#ffffff" stroke="#222" stroke-width="0.6"/>
<text x="78.90" y="300.00" font-size="6.6" text-anchor="middle" fill="#000" stroke="#000" stroke-width="0.16" letter-spacing="0.27">Cluster 1760</text>
<text x="337.00" y="269.70" font-size="20.5" text-anchor="start" fill="#000" stroke="#000" stroke-width="0.22" >d</text>
<text x="360.00" y="278.50" font-size="11.15" text-anchor="start" fill="#000" stroke="#000" stroke-width="0.22" letter-spacing="0.33">Plasmid AT−richness</text>
<circle cx="393.80" cy="358.80" r="2.1" fill="#FD939D" stroke="#2e2e2e" stroke-width="0.55"/>
<circle cx="383.30" cy="388.40" r="2.1" fill="#FD939D" stroke="#2e2e2e" stroke-width="0.55"/>
<circle cx="395.70" cy="390.60" r="2.1" fill="#FD939D" stroke="#2e2e2e" stroke-width="0.55"/>
<circle cx="400.60" cy="386.50" r="2.1" fill="#FD939D" stroke="#2e2e2e" stroke-width="0.55"/>
<circle cx="423.90" cy="388.40" r="2.1" fill="#FD939D" stroke="#2e2e2e" stroke-width="0.55"/>
<circle cx="422.60" cy="403.00" r="2.1" fill="#FD939D" stroke="#2e2e2e" stroke-width="0.55"/>
<circle cx="419.80" cy="406.80" r="2.1" fill="#FD939D" stroke="#2e2e2e" stroke-width="0.55"/>
<circle cx="425.00" cy="410.40" r="2.1" fill="#FD939D" stroke="#2e2e2e" stroke-width="0.55"/>
<circle cx="398.40" cy="412.60" r="2.1" fill="#FD939D" stroke="#2e2e2e" stroke-width="0.55"/>
<circle cx="391.00" cy="415.30" r="2.1" fill="#FD939D" stroke="#2e2e2e" stroke-width="0.55"/>
<circle cx="392.10" cy="415.90" r="2.1" fill="#FD939D" stroke="#2e2e2e" stroke-width="0.55"/>
<circle cx="398.40" cy="417.20" r="2.1" fill="#FD939D" stroke="#2e2e2e" stroke-width="0.55"/>
<circle cx="385.50" cy="420.30" r="2.1" fill="#FD939D" stroke="#2e2e2e" stroke-width="0.55"/>
<circle cx="393.50" cy="421.90" r="2.1" fill="#FD939D" stroke="#2e2e2e" stroke-width="0.55"/>
<circle cx="400.60" cy="424.60" r="2.1" fill="#FD939D" stroke="#2e2e2e" stroke-width="0.55"/>
<circle cx="399.00" cy="430.40" r="2.1" fill="#FD939D" stroke="#2e2e2e" stroke-width="0.55"/>
<circle cx="402.00" cy="433.20" r="2.1" fill="#FD939D" stroke="#2e2e2e" stroke-width="0.55"/>
<circle cx="425.00" cy="429.60" r="2.1" fill="#FD939D" stroke="#2e2e2e" stroke-width="0.55"/>
<circle cx="422.60" cy="432.30" r="2.1" fill="#FD939D" stroke="#2e2e2e" stroke-width="0.55"/>
<circle cx="388.80" cy="435.60" r="2.1" fill="#FD939D" stroke="#2e2e2e" stroke-width="0.55"/>
<circle cx="404.70" cy="443.30" r="2.1" fill="#FD939D" stroke="#2e2e2e" stroke-width="0.55"/>
<circle cx="409.90" cy="443.30" r="2.1" fill="#FD939D" stroke="#2e2e2e" stroke-width="0.55"/>
<circle cx="414.90" cy="441.40" r="2.1" fill="#FD939D" stroke="#2e2e2e" stroke-width="0.55"/>
<circle cx="420.40" cy="441.90" r="2.1" fill="#FD939D" stroke="#2e2e2e" stroke-width="0.55"/>
<circle cx="424.80" cy="441.40" r="2.1" fill="#FD939D" stroke="#2e2e2e" stroke-width="0.55"/>
<circle cx="428.10" cy="442.80" r="2.1" fill="#FD939D" stroke="#2e2e2e" stroke-width="0.55"/>
<circle cx="428.60" cy="443.90" r="2.1" fill="#FD939D" stroke="#2e2e2e" stroke-width="0.55"/>
<circle cx="396.20" cy="448.00" r="2.1" fill="#FD939D" stroke="#2e2e2e" stroke-width="0.55"/>
<circle cx="419.80" cy="448.80" r="2.1" fill="#FD939D" stroke="#2e2e2e" stroke-width="0.55"/>
<circle cx="409.40" cy="452.90" r="2.1" fill="#FD939D" stroke="#2e2e2e" stroke-width="0.55"/>
<circle cx="413.50" cy="454.80" r="2.1" fill="#FD939D" stroke="#2e2e2e" stroke-width="0.55"/>
<circle cx="402.00" cy="455.70" r="2.1" fill="#FD939D" stroke="#2e2e2e" stroke-width="0.55"/>
<circle cx="403.90" cy="455.70" r="2.1" fill="#FD939D" stroke="#2e2e2e" stroke-width="0.55"/>
<circle cx="390.20" cy="460.60" r="2.1" fill="#FD939D" stroke="#2e2e2e" stroke-width="0.55"/>
<circle cx="385.20" cy="462.50" r="2.1" fill="#FD939D" stroke="#2e2e2e" stroke-width="0.55"/>
<circle cx="386.30" cy="466.10" r="2.1" fill="#FD939D" stroke="#2e2e2e" stroke-width="0.55"/>
<circle cx="398.40" cy="466.10" r="2.1" fill="#FD939D" stroke="#2e2e2e" stroke-width="0.55"/>
<circle cx="417.10" cy="465.80" r="2.1" fill="#FD939D" stroke="#2e2e2e" stroke-width="0.55"/>
<circle cx="427.20" cy="458.40" r="2.1" fill="#FD939D" stroke="#2e2e2e" stroke-width="0.55"/>
<circle cx="500.48" cy="343.33" r="2.1" fill="#C5CAEA" stroke="#2e2e2e" stroke-width="0.55"/>
<circle cx="463.92" cy="356.24" r="2.1" fill="#C5CAEA" stroke="#2e2e2e" stroke-width="0.55"/>
<circle cx="484.35" cy="366.56" r="2.1" fill="#C5CAEA" stroke="#2e2e2e" stroke-width="0.55"/>
<circle cx="472.53" cy="371.94" r="2.1" fill="#C5CAEA" stroke="#2e2e2e" stroke-width="0.55"/>
<circle cx="503.49" cy="371.51" r="2.1" fill="#C5CAEA" stroke="#2e2e2e" stroke-width="0.55"/>
<circle cx="480.48" cy="376.67" r="2.1" fill="#C5CAEA" stroke="#2e2e2e" stroke-width="0.55"/>
<circle cx="491.24" cy="375.59" r="2.1" fill="#C5CAEA" stroke="#2e2e2e" stroke-width="0.55"/>
<circle cx="472.31" cy="383.55" r="2.1" fill="#C5CAEA" stroke="#2e2e2e" stroke-width="0.55"/>
<circle cx="480.05" cy="384.19" r="2.1" fill="#C5CAEA" stroke="#2e2e2e" stroke-width="0.55"/>
<circle cx="486.51" cy="382.69" r="2.1" fill="#C5CAEA" stroke="#2e2e2e" stroke-width="0.55"/>
<circle cx="462.20" cy="387.63" r="2.1" fill="#C5CAEA" stroke="#2e2e2e" stroke-width="0.55"/>
<circle cx="494.46" cy="388.49" r="2.1" fill="#C5CAEA" stroke="#2e2e2e" stroke-width="0.55"/>
<circle cx="504.14" cy="388.06" r="2.1" fill="#C5CAEA" stroke="#2e2e2e" stroke-width="0.55"/>
<circle cx="464.35" cy="392.37" r="2.1" fill="#C5CAEA" stroke="#2e2e2e" stroke-width="0.55"/>
<circle cx="470.38" cy="394.09" r="2.1" fill="#C5CAEA" stroke="#2e2e2e" stroke-width="0.55"/>
<circle cx="477.26" cy="392.37" r="2.1" fill="#C5CAEA" stroke="#2e2e2e" stroke-width="0.55"/>
<circle cx="479.41" cy="390.22" r="2.1" fill="#C5CAEA" stroke="#2e2e2e" stroke-width="0.55"/>
<circle cx="484.78" cy="392.80" r="2.1" fill="#C5CAEA" stroke="#2e2e2e" stroke-width="0.55"/>
<circle cx="488.01" cy="394.09" r="2.1" fill="#C5CAEA" stroke="#2e2e2e" stroke-width="0.55"/>
<circle cx="490.59" cy="392.80" r="2.1" fill="#C5CAEA" stroke="#2e2e2e" stroke-width="0.55"/>
<circle cx="503.06" cy="392.37" r="2.1" fill="#C5CAEA" stroke="#2e2e2e" stroke-width="0.55"/>
<circle cx="504.78" cy="394.09" r="2.1" fill="#C5CAEA" stroke="#2e2e2e" stroke-width="0.55"/>
<circle cx="484.35" cy="398.39" r="2.1" fill="#C5CAEA" stroke="#2e2e2e" stroke-width="0.55"/>
<circle cx="466.51" cy="399.89" r="2.1" fill="#C5CAEA" stroke="#2e2e2e" stroke-width="0.55"/>
<circle cx="460.05" cy="404.84" r="2.1" fill="#C5CAEA" stroke="#2e2e2e" stroke-width="0.55"/>
<circle cx="466.08" cy="404.19" r="2.1" fill="#C5CAEA" stroke="#2e2e2e" stroke-width="0.55"/>
<circle cx="467.58" cy="405.27" r="2.1" fill="#C5CAEA" stroke="#2e2e2e" stroke-width="0.55"/>
<circle cx="472.53" cy="403.12" r="2.1" fill="#C5CAEA" stroke="#2e2e2e" stroke-width="0.55"/>
<circle cx="484.78" cy="404.84" r="2.1" fill="#C5CAEA" stroke="#2e2e2e" stroke-width="0.55"/>
<circle cx="487.58" cy="405.70" r="2.1" fill="#C5CAEA" stroke="#2e2e2e" stroke-width="0.55"/>
<circle cx="489.52" cy="403.55" r="2.1" fill="#C5CAEA" stroke="#2e2e2e" stroke-width="0.55"/>
<circle cx="495.54" cy="400.97" r="2.1" fill="#C5CAEA" stroke="#2e2e2e" stroke-width="0.55"/>
<circle cx="496.18" cy="404.84" r="2.1" fill="#C5CAEA" stroke="#2e2e2e" stroke-width="0.55"/>
<circle cx="499.84" cy="403.12" r="2.1" fill="#C5CAEA" stroke="#2e2e2e" stroke-width="0.55"/>
<circle cx="502.63" cy="405.27" r="2.1" fill="#C5CAEA" stroke="#2e2e2e" stroke-width="0.55"/>
<circle cx="494.89" cy="407.42" r="2.1" fill="#C5CAEA" stroke="#2e2e2e" stroke-width="0.55"/>
<circle cx="498.33" cy="409.14" r="2.1" fill="#C5CAEA" stroke="#2e2e2e" stroke-width="0.55"/>
<circle cx="463.92" cy="409.57" r="2.1" fill="#C5CAEA" stroke="#2e2e2e" stroke-width="0.55"/>
<circle cx="468.23" cy="409.14" r="2.1" fill="#C5CAEA" stroke="#2e2e2e" stroke-width="0.55"/>
<circle cx="461.13" cy="416.02" r="2.1" fill="#C5CAEA" stroke="#2e2e2e" stroke-width="0.55"/>
<circle cx="468.66" cy="415.59" r="2.1" fill="#C5CAEA" stroke="#2e2e2e" stroke-width="0.55"/>
<circle cx="475.11" cy="416.45" r="2.1" fill="#C5CAEA" stroke="#2e2e2e" stroke-width="0.55"/>
<circle cx="499.19" cy="417.74" r="2.1" fill="#C5CAEA" stroke="#2e2e2e" stroke-width="0.55"/>
<circle cx="461.13" cy="421.40" r="2.1" fill="#C5CAEA" stroke="#2e2e2e" stroke-width="0.55"/>
<circle cx="468.66" cy="417.10" r="2.1" fill="#C5CAEA" stroke="#2e2e2e" stroke-width="0.55"/>
<circle cx="497.69" cy="425.27" r="2.1" fill="#C5CAEA" stroke="#2e2e2e" stroke-width="0.55"/>
<circle cx="468.23" cy="427.20" r="2.1" fill="#C5CAEA" stroke="#2e2e2e" stroke-width="0.55"/>
<circle cx="485.86" cy="406.99" r="2.1" fill="#C5CAEA" stroke="#2e2e2e" stroke-width="0.55"/>
<circle cx="538.40" cy="336.00" r="2.1" fill="#B3E8D4" stroke="#2e2e2e" stroke-width="0.55"/>
<circle cx="580.30" cy="336.00" r="2.1" fill="#B3E8D4" stroke="#2e2e2e" stroke-width="0.55"/>
<circle cx="536.50" cy="347.50" r="2.1" fill="#B3E8D4" stroke="#2e2e2e" stroke-width="0.55"/>
<circle cx="548.00" cy="343.50" r="2.1" fill="#B3E8D4" stroke="#2e2e2e" stroke-width="0.55"/>
<circle cx="550.00" cy="347.50" r="2.1" fill="#B3E8D4" stroke="#2e2e2e" stroke-width="0.55"/>
<circle cx="556.00" cy="352.00" r="2.1" fill="#B3E8D4" stroke="#2e2e2e" stroke-width="0.55"/>
<circle cx="567.00" cy="355.00" r="2.1" fill="#B3E8D4" stroke="#2e2e2e" stroke-width="0.55"/>
<circle cx="567.00" cy="358.50" r="2.1" fill="#B3E8D4" stroke="#2e2e2e" stroke-width="0.55"/>
<circle cx="552.00" cy="362.00" r="2.1" fill="#B3E8D4" stroke="#2e2e2e" stroke-width="0.55"/>
<circle cx="582.00" cy="369.00" r="2.1" fill="#B3E8D4" stroke="#2e2e2e" stroke-width="0.55"/>
<circle cx="540.00" cy="370.00" r="2.1" fill="#B3E8D4" stroke="#2e2e2e" stroke-width="0.55"/>
<circle cx="549.00" cy="371.00" r="2.1" fill="#B3E8D4" stroke="#2e2e2e" stroke-width="0.55"/>
<circle cx="553.00" cy="369.00" r="2.1" fill="#B3E8D4" stroke="#2e2e2e" stroke-width="0.55"/>
<circle cx="564.00" cy="371.00" r="2.1" fill="#B3E8D4" stroke="#2e2e2e" stroke-width="0.55"/>
<circle cx="543.40" cy="479.40" r="2.1" fill="#B3E8D4" stroke="#2e2e2e" stroke-width="0.55"/>
<circle cx="554.40" cy="479.40" r="2.1" fill="#B3E8D4" stroke="#2e2e2e" stroke-width="0.55"/>
<circle cx="562.20" cy="479.40" r="2.1" fill="#B3E8D4" stroke="#2e2e2e" stroke-width="0.55"/>
<circle cx="569.40" cy="479.40" r="2.1" fill="#B3E8D4" stroke="#2e2e2e" stroke-width="0.55"/>
<circle cx="581.00" cy="479.40" r="2.1" fill="#B3E8D4" stroke="#2e2e2e" stroke-width="0.55"/>
<circle cx="537.00" cy="461.00" r="2.1" fill="#B3E8D4" stroke="#2e2e2e" stroke-width="0.55"/>
<circle cx="545.00" cy="466.00" r="2.1" fill="#B3E8D4" stroke="#2e2e2e" stroke-width="0.55"/>
<circle cx="557.00" cy="460.00" r="2.1" fill="#B3E8D4" stroke="#2e2e2e" stroke-width="0.55"/>
<circle cx="570.00" cy="467.00" r="2.1" fill="#B3E8D4" stroke="#2e2e2e" stroke-width="0.55"/>
<circle cx="578.00" cy="468.00" r="2.1" fill="#B3E8D4" stroke="#2e2e2e" stroke-width="0.55"/>
<circle cx="584.00" cy="460.00" r="2.1" fill="#B3E8D4" stroke="#2e2e2e" stroke-width="0.55"/>
<circle cx="538.00" cy="467.00" r="2.1" fill="#B3E8D4" stroke="#2e2e2e" stroke-width="0.55"/>
<circle cx="562.23" cy="413.71" r="2.1" fill="#B3E8D4" stroke="#2e2e2e" stroke-width="0.55"/>
<circle cx="557.62" cy="436.36" r="2.1" fill="#B3E8D4" stroke="#2e2e2e" stroke-width="0.55"/>
<circle cx="563.58" cy="416.38" r="2.1" fill="#B3E8D4" stroke="#2e2e2e" stroke-width="0.55"/>
<circle cx="559.88" cy="400.86" r="2.1" fill="#B3E8D4" stroke="#2e2e2e" stroke-width="0.55"/>
<circle cx="573.66" cy="422.23" r="2.1" fill="#B3E8D4" stroke="#2e2e2e" stroke-width="0.55"/>
<circle cx="549.67" cy="396.52" r="2.1" fill="#B3E8D4" stroke="#2e2e2e" stroke-width="0.55"/>
<circle cx="574.47" cy="396.35" r="2.1" fill="#B3E8D4" stroke="#2e2e2e" stroke-width="0.55"/>
<circle cx="536.85" cy="425.29" r="2.1" fill="#B3E8D4" stroke="#2e2e2e" stroke-width="0.55"/>
<circle cx="582.07" cy="439.15" r="2.1" fill="#B3E8D4" stroke="#2e2e2e" stroke-width="0.55"/>
<circle cx="564.96" cy="423.39" r="2.1" fill="#B3E8D4" stroke="#2e2e2e" stroke-width="0.55"/>
<circle cx="535.54" cy="399.56" r="2.1" fill="#B3E8D4" stroke="#2e2e2e" stroke-width="0.55"/>
<circle cx="537.72" cy="417.36" r="2.1" fill="#B3E8D4" stroke="#2e2e2e" stroke-width="0.55"/>
<circle cx="546.66" cy="401.13" r="2.1" fill="#B3E8D4" stroke="#2e2e2e" stroke-width="0.55"/>
<circle cx="557.53" cy="393.44" r="2.1" fill="#B3E8D4" stroke="#2e2e2e" stroke-width="0.55"/>
<circle cx="576.08" cy="413.15" r="2.1" fill="#B3E8D4" stroke="#2e2e2e" stroke-width="0.55"/>
<circle cx="566.17" cy="416.92" r="2.1" fill="#B3E8D4" stroke="#2e2e2e" stroke-width="0.55"/>
<circle cx="567.26" cy="415.99" r="2.1" fill="#B3E8D4" stroke="#2e2e2e" stroke-width="0.55"/>
<circle cx="548.43" cy="413.95" r="2.1" fill="#B3E8D4" stroke="#2e2e2e" stroke-width="0.55"/>
<circle cx="583.59" cy="439.89" r="2.1" fill="#B3E8D4" stroke="#2e2e2e" stroke-width="0.55"/>
<circle cx="569.48" cy="432.33" r="2.1" fill="#B3E8D4" stroke="#2e2e2e" stroke-width="0.55"/>
<circle cx="546.05" cy="407.13" r="2.1" fill="#B3E8D4" stroke="#2e2e2e" stroke-width="0.55"/>
<circle cx="538.24" cy="405.87" r="2.1" fill="#B3E8D4" stroke="#2e2e2e" stroke-width="0.55"/>
<circle cx="554.42" cy="428.78" r="2.1" fill="#B3E8D4" stroke="#2e2e2e" stroke-width="0.55"/>
<circle cx="553.74" cy="432.64" r="2.1" fill="#B3E8D4" stroke="#2e2e2e" stroke-width="0.55"/>
<circle cx="576.32" cy="437.99" r="2.1" fill="#B3E8D4" stroke="#2e2e2e" stroke-width="0.55"/>
<circle cx="545.08" cy="392.03" r="2.1" fill="#B3E8D4" stroke="#2e2e2e" stroke-width="0.55"/>
<circle cx="557.83" cy="435.69" r="2.1" fill="#B3E8D4" stroke="#2e2e2e" stroke-width="0.55"/>
<circle cx="554.27" cy="439.06" r="2.1" fill="#B3E8D4" stroke="#2e2e2e" stroke-width="0.55"/>
<circle cx="565.64" cy="395.51" r="2.1" fill="#B3E8D4" stroke="#2e2e2e" stroke-width="0.55"/>
<circle cx="548.02" cy="429.37" r="2.1" fill="#B3E8D4" stroke="#2e2e2e" stroke-width="0.55"/>
<circle cx="551.10" cy="396.18" r="2.1" fill="#B3E8D4" stroke="#2e2e2e" stroke-width="0.55"/>
<circle cx="571.94" cy="438.28" r="2.1" fill="#B3E8D4" stroke="#2e2e2e" stroke-width="0.55"/>
<circle cx="546.87" cy="397.66" r="2.1" fill="#B3E8D4" stroke="#2e2e2e" stroke-width="0.55"/>
<circle cx="537.73" cy="396.85" r="2.1" fill="#B3E8D4" stroke="#2e2e2e" stroke-width="0.55"/>
<circle cx="543.51" cy="430.26" r="2.1" fill="#B3E8D4" stroke="#2e2e2e" stroke-width="0.55"/>
<circle cx="556.72" cy="418.85" r="2.1" fill="#B3E8D4" stroke="#2e2e2e" stroke-width="0.55"/>
<circle cx="570.66" cy="401.15" r="2.1" fill="#B3E8D4" stroke="#2e2e2e" stroke-width="0.55"/>
<circle cx="566.34" cy="398.29" r="2.1" fill="#B3E8D4" stroke="#2e2e2e" stroke-width="0.55"/>
<circle cx="555.42" cy="397.59" r="2.1" fill="#B3E8D4" stroke="#2e2e2e" stroke-width="0.55"/>
<circle cx="548.02" cy="402.22" r="2.1" fill="#B3E8D4" stroke="#2e2e2e" stroke-width="0.55"/>
<circle cx="574.17" cy="438.60" r="2.1" fill="#B3E8D4" stroke="#2e2e2e" stroke-width="0.55"/>
<circle cx="578.16" cy="406.60" r="2.1" fill="#B3E8D4" stroke="#2e2e2e" stroke-width="0.55"/>
<circle cx="554.12" cy="402.11" r="2.1" fill="#B3E8D4" stroke="#2e2e2e" stroke-width="0.55"/>
<circle cx="566.25" cy="433.01" r="2.1" fill="#B3E8D4" stroke="#2e2e2e" stroke-width="0.55"/>
<circle cx="583.28" cy="396.82" r="2.1" fill="#B3E8D4" stroke="#2e2e2e" stroke-width="0.55"/>
<circle cx="547.46" cy="402.24" r="2.1" fill="#B3E8D4" stroke="#2e2e2e" stroke-width="0.55"/>
<circle cx="550.92" cy="429.09" r="2.1" fill="#B3E8D4" stroke="#2e2e2e" stroke-width="0.55"/>
<circle cx="538.40" cy="406.22" r="2.1" fill="#B3E8D4" stroke="#2e2e2e" stroke-width="0.55"/>
<circle cx="563.35" cy="396.33" r="2.1" fill="#B3E8D4" stroke="#2e2e2e" stroke-width="0.55"/>
<circle cx="564.26" cy="403.66" r="2.1" fill="#B3E8D4" stroke="#2e2e2e" stroke-width="0.55"/>
<circle cx="557.01" cy="409.84" r="2.1" fill="#B3E8D4" stroke="#2e2e2e" stroke-width="0.55"/>
<circle cx="558.50" cy="438.04" r="2.1" fill="#B3E8D4" stroke="#2e2e2e" stroke-width="0.55"/>
<circle cx="577.26" cy="419.58" r="2.1" fill="#B3E8D4" stroke="#2e2e2e" stroke-width="0.55"/>
<circle cx="542.35" cy="400.78" r="2.1" fill="#B3E8D4" stroke="#2e2e2e" stroke-width="0.55"/>
<circle cx="574.87" cy="435.60" r="2.1" fill="#B3E8D4" stroke="#2e2e2e" stroke-width="0.55"/>
<circle cx="544.10" cy="403.98" r="2.1" fill="#B3E8D4" stroke="#2e2e2e" stroke-width="0.55"/>
<circle cx="580.88" cy="427.49" r="2.1" fill="#B3E8D4" stroke="#2e2e2e" stroke-width="0.55"/>
<circle cx="581.36" cy="401.44" r="2.1" fill="#B3E8D4" stroke="#2e2e2e" stroke-width="0.55"/>
<circle cx="564.37" cy="434.35" r="2.1" fill="#B3E8D4" stroke="#2e2e2e" stroke-width="0.55"/>
<circle cx="539.89" cy="412.23" r="2.1" fill="#B3E8D4" stroke="#2e2e2e" stroke-width="0.55"/>
<circle cx="581.97" cy="393.86" r="2.1" fill="#B3E8D4" stroke="#2e2e2e" stroke-width="0.55"/>
<circle cx="569.32" cy="403.44" r="2.1" fill="#B3E8D4" stroke="#2e2e2e" stroke-width="0.55"/>
<circle cx="575.16" cy="404.34" r="2.1" fill="#B3E8D4" stroke="#2e2e2e" stroke-width="0.55"/>
<circle cx="549.18" cy="420.63" r="2.1" fill="#B3E8D4" stroke="#2e2e2e" stroke-width="0.55"/>
<circle cx="570.10" cy="400.42" r="2.1" fill="#B3E8D4" stroke="#2e2e2e" stroke-width="0.55"/>
<circle cx="545.99" cy="395.30" r="2.1" fill="#B3E8D4" stroke="#2e2e2e" stroke-width="0.55"/>
<circle cx="576.57" cy="418.85" r="2.1" fill="#B3E8D4" stroke="#2e2e2e" stroke-width="0.55"/>
<circle cx="548.53" cy="421.49" r="2.1" fill="#B3E8D4" stroke="#2e2e2e" stroke-width="0.55"/>
<circle cx="544.79" cy="436.03" r="2.1" fill="#B3E8D4" stroke="#2e2e2e" stroke-width="0.55"/>
<circle cx="547.99" cy="392.80" r="2.1" fill="#B3E8D4" stroke="#2e2e2e" stroke-width="0.55"/>
<circle cx="537.76" cy="413.39" r="2.1" fill="#B3E8D4" stroke="#2e2e2e" stroke-width="0.55"/>
<circle cx="552.87" cy="400.46" r="2.1" fill="#B3E8D4" stroke="#2e2e2e" stroke-width="0.55"/>
<circle cx="541.25" cy="419.46" r="2.1" fill="#B3E8D4" stroke="#2e2e2e" stroke-width="0.55"/>
<circle cx="578.46" cy="409.38" r="2.1" fill="#B3E8D4" stroke="#2e2e2e" stroke-width="0.55"/>
<circle cx="566.99" cy="439.06" r="2.1" fill="#B3E8D4" stroke="#2e2e2e" stroke-width="0.55"/>
<circle cx="563.44" cy="425.18" r="2.1" fill="#B3E8D4" stroke="#2e2e2e" stroke-width="0.55"/>
<circle cx="536.52" cy="398.74" r="2.1" fill="#B3E8D4" stroke="#2e2e2e" stroke-width="0.55"/>
<circle cx="579.40" cy="392.86" r="2.1" fill="#B3E8D4" stroke="#2e2e2e" stroke-width="0.55"/>
<circle cx="581.98" cy="425.65" r="2.1" fill="#B3E8D4" stroke="#2e2e2e" stroke-width="0.55"/>
<circle cx="565.97" cy="393.02" r="2.1" fill="#B3E8D4" stroke="#2e2e2e" stroke-width="0.55"/>
<circle cx="570.59" cy="415.15" r="2.1" fill="#B3E8D4" stroke="#2e2e2e" stroke-width="0.55"/>
<circle cx="583.77" cy="407.31" r="2.1" fill="#B3E8D4" stroke="#2e2e2e" stroke-width="0.55"/>
<circle cx="561.56" cy="395.61" r="2.1" fill="#B3E8D4" stroke="#2e2e2e" stroke-width="0.55"/>
<circle cx="578.91" cy="427.38" r="2.1" fill="#B3E8D4" stroke="#2e2e2e" stroke-width="0.55"/>
<circle cx="569.28" cy="427.38" r="2.1" fill="#B3E8D4" stroke="#2e2e2e" stroke-width="0.55"/>
<circle cx="579.64" cy="430.08" r="2.1" fill="#B3E8D4" stroke="#2e2e2e" stroke-width="0.55"/>
<circle cx="568.37" cy="408.89" r="2.1" fill="#B3E8D4" stroke="#2e2e2e" stroke-width="0.55"/>
<circle cx="577.48" cy="435.24" r="2.1" fill="#B3E8D4" stroke="#2e2e2e" stroke-width="0.55"/>
<circle cx="573.54" cy="412.02" r="2.1" fill="#B3E8D4" stroke="#2e2e2e" stroke-width="0.55"/>
<circle cx="562.87" cy="433.45" r="2.1" fill="#B3E8D4" stroke="#2e2e2e" stroke-width="0.55"/>
<circle cx="553.53" cy="422.00" r="2.1" fill="#B3E8D4" stroke="#2e2e2e" stroke-width="0.55"/>
<circle cx="564.63" cy="419.97" r="2.1" fill="#B3E8D4" stroke="#2e2e2e" stroke-width="0.55"/>
<circle cx="566.13" cy="395.85" r="2.1" fill="#B3E8D4" stroke="#2e2e2e" stroke-width="0.55"/>
<circle cx="577.91" cy="439.68" r="2.1" fill="#B3E8D4" stroke="#2e2e2e" stroke-width="0.55"/>
<circle cx="553.83" cy="426.95" r="2.1" fill="#B3E8D4" stroke="#2e2e2e" stroke-width="0.55"/>
<circle cx="563.27" cy="427.28" r="2.1" fill="#B3E8D4" stroke="#2e2e2e" stroke-width="0.55"/>
<circle cx="575.88" cy="413.15" r="2.1" fill="#B3E8D4" stroke="#2e2e2e" stroke-width="0.55"/>
<circle cx="571.56" cy="396.02" r="2.1" fill="#B3E8D4" stroke="#2e2e2e" stroke-width="0.55"/>
<circle cx="564.26" cy="393.43" r="2.1" fill="#B3E8D4" stroke="#2e2e2e" stroke-width="0.55"/>
<circle cx="546.08" cy="415.09" r="2.1" fill="#B3E8D4" stroke="#2e2e2e" stroke-width="0.55"/>
<circle cx="559.17" cy="425.52" r="2.1" fill="#B3E8D4" stroke="#2e2e2e" stroke-width="0.55"/>
<circle cx="579.90" cy="421.50" r="2.1" fill="#B3E8D4" stroke="#2e2e2e" stroke-width="0.55"/>
<circle cx="535.35" cy="404.28" r="2.1" fill="#B3E8D4" stroke="#2e2e2e" stroke-width="0.55"/>
<circle cx="568.03" cy="406.45" r="2.1" fill="#B3E8D4" stroke="#2e2e2e" stroke-width="0.55"/>
<circle cx="543.11" cy="401.72" r="2.1" fill="#B3E8D4" stroke="#2e2e2e" stroke-width="0.55"/>
<circle cx="567.14" cy="435.47" r="2.1" fill="#B3E8D4" stroke="#2e2e2e" stroke-width="0.55"/>
<circle cx="578.49" cy="413.21" r="2.1" fill="#B3E8D4" stroke="#2e2e2e" stroke-width="0.55"/>
<circle cx="567.43" cy="407.69" r="2.1" fill="#B3E8D4" stroke="#2e2e2e" stroke-width="0.55"/>
<circle cx="555.91" cy="401.53" r="2.1" fill="#B3E8D4" stroke="#2e2e2e" stroke-width="0.55"/>
<circle cx="579.60" cy="430.69" r="2.1" fill="#B3E8D4" stroke="#2e2e2e" stroke-width="0.55"/>
<circle cx="553.64" cy="434.25" r="2.1" fill="#B3E8D4" stroke="#2e2e2e" stroke-width="0.55"/>
<circle cx="550.31" cy="419.99" r="2.1" fill="#B3E8D4" stroke="#2e2e2e" stroke-width="0.55"/>
<circle cx="559.13" cy="398.54" r="2.1" fill="#B3E8D4" stroke="#2e2e2e" stroke-width="0.55"/>
<circle cx="576.39" cy="432.18" r="2.1" fill="#B3E8D4" stroke="#2e2e2e" stroke-width="0.55"/>
<circle cx="581.35" cy="426.14" r="2.1" fill="#B3E8D4" stroke="#2e2e2e" stroke-width="0.55"/>
<circle cx="543.09" cy="405.29" r="2.1" fill="#B3E8D4" stroke="#2e2e2e" stroke-width="0.55"/>
<circle cx="548.28" cy="413.63" r="2.1" fill="#B3E8D4" stroke="#2e2e2e" stroke-width="0.55"/>
<circle cx="555.09" cy="402.28" r="2.1" fill="#B3E8D4" stroke="#2e2e2e" stroke-width="0.55"/>
<circle cx="559.00" cy="422.04" r="2.1" fill="#B3E8D4" stroke="#2e2e2e" stroke-width="0.55"/>
<circle cx="575.92" cy="407.14" r="2.1" fill="#B3E8D4" stroke="#2e2e2e" stroke-width="0.55"/>
<circle cx="556.97" cy="439.14" r="2.1" fill="#B3E8D4" stroke="#2e2e2e" stroke-width="0.55"/>
<circle cx="536.34" cy="395.58" r="2.1" fill="#B3E8D4" stroke="#2e2e2e" stroke-width="0.55"/>
<circle cx="536.83" cy="433.90" r="2.1" fill="#B3E8D4" stroke="#2e2e2e" stroke-width="0.55"/>
<circle cx="562.76" cy="426.01" r="2.1" fill="#B3E8D4" stroke="#2e2e2e" stroke-width="0.55"/>
<circle cx="573.58" cy="406.83" r="2.1" fill="#B3E8D4" stroke="#2e2e2e" stroke-width="0.55"/>
<circle cx="541.46" cy="392.92" r="2.1" fill="#B3E8D4" stroke="#2e2e2e" stroke-width="0.55"/>
<circle cx="536.01" cy="413.83" r="2.1" fill="#B3E8D4" stroke="#2e2e2e" stroke-width="0.55"/>
<circle cx="546.43" cy="431.82" r="2.1" fill="#B3E8D4" stroke="#2e2e2e" stroke-width="0.55"/>
<circle cx="537.10" cy="398.76" r="2.1" fill="#B3E8D4" stroke="#2e2e2e" stroke-width="0.55"/>
<circle cx="556.68" cy="422.20" r="2.1" fill="#B3E8D4" stroke="#2e2e2e" stroke-width="0.55"/>
<circle cx="566.90" cy="422.24" r="2.1" fill="#B3E8D4" stroke="#2e2e2e" stroke-width="0.55"/>
<circle cx="581.76" cy="430.75" r="2.1" fill="#B3E8D4" stroke="#2e2e2e" stroke-width="0.55"/>
<circle cx="544.57" cy="424.86" r="2.1" fill="#B3E8D4" stroke="#2e2e2e" stroke-width="0.55"/>
<circle cx="543.56" cy="414.81" r="2.1" fill="#B3E8D4" stroke="#2e2e2e" stroke-width="0.55"/>
<circle cx="557.94" cy="392.52" r="2.1" fill="#B3E8D4" stroke="#2e2e2e" stroke-width="0.55"/>
<circle cx="543.58" cy="426.28" r="2.1" fill="#B3E8D4" stroke="#2e2e2e" stroke-width="0.55"/>
<circle cx="551.74" cy="405.07" r="2.1" fill="#B3E8D4" stroke="#2e2e2e" stroke-width="0.55"/>
<circle cx="560.30" cy="425.47" r="2.1" fill="#B3E8D4" stroke="#2e2e2e" stroke-width="0.55"/>
<circle cx="571.85" cy="421.49" r="2.1" fill="#B3E8D4" stroke="#2e2e2e" stroke-width="0.55"/>
<circle cx="573.60" cy="410.89" r="2.1" fill="#B3E8D4" stroke="#2e2e2e" stroke-width="0.55"/>
<circle cx="539.07" cy="435.50" r="2.1" fill="#B3E8D4" stroke="#2e2e2e" stroke-width="0.55"/>
<circle cx="570.20" cy="436.76" r="2.1" fill="#B3E8D4" stroke="#2e2e2e" stroke-width="0.55"/>
<circle cx="557.02" cy="398.24" r="2.1" fill="#B3E8D4" stroke="#2e2e2e" stroke-width="0.55"/>
<circle cx="579.39" cy="422.03" r="2.1" fill="#B3E8D4" stroke="#2e2e2e" stroke-width="0.55"/>
<circle cx="562.67" cy="410.09" r="2.1" fill="#B3E8D4" stroke="#2e2e2e" stroke-width="0.55"/>
<circle cx="573.84" cy="434.21" r="2.1" fill="#B3E8D4" stroke="#2e2e2e" stroke-width="0.55"/>
<circle cx="557.52" cy="437.32" r="2.1" fill="#B3E8D4" stroke="#2e2e2e" stroke-width="0.55"/>
<circle cx="544.84" cy="423.26" r="2.1" fill="#B3E8D4" stroke="#2e2e2e" stroke-width="0.55"/>
<circle cx="574.90" cy="426.65" r="2.1" fill="#B3E8D4" stroke="#2e2e2e" stroke-width="0.55"/>
<circle cx="569.97" cy="422.80" r="2.1" fill="#B3E8D4" stroke="#2e2e2e" stroke-width="0.55"/>
<circle cx="578.90" cy="402.24" r="2.1" fill="#B3E8D4" stroke="#2e2e2e" stroke-width="0.55"/>
<circle cx="582.69" cy="439.06" r="2.1" fill="#B3E8D4" stroke="#2e2e2e" stroke-width="0.55"/>
<circle cx="573.55" cy="417.77" r="2.1" fill="#B3E8D4" stroke="#2e2e2e" stroke-width="0.55"/>
<circle cx="579.39" cy="407.38" r="2.1" fill="#B3E8D4" stroke="#2e2e2e" stroke-width="0.55"/>
<circle cx="551.88" cy="433.08" r="2.1" fill="#B3E8D4" stroke="#2e2e2e" stroke-width="0.55"/>
<circle cx="556.40" cy="395.97" r="2.1" fill="#B3E8D4" stroke="#2e2e2e" stroke-width="0.55"/>
<circle cx="572.44" cy="418.41" r="2.1" fill="#B3E8D4" stroke="#2e2e2e" stroke-width="0.55"/>
<circle cx="536.19" cy="415.40" r="2.1" fill="#B3E8D4" stroke="#2e2e2e" stroke-width="0.55"/>
<circle cx="537.94" cy="430.84" r="2.1" fill="#B3E8D4" stroke="#2e2e2e" stroke-width="0.55"/>
<circle cx="543.27" cy="430.39" r="2.1" fill="#B3E8D4" stroke="#2e2e2e" stroke-width="0.55"/>
<circle cx="573.41" cy="408.08" r="2.1" fill="#B3E8D4" stroke="#2e2e2e" stroke-width="0.55"/>
<circle cx="542.09" cy="398.74" r="2.1" fill="#B3E8D4" stroke="#2e2e2e" stroke-width="0.55"/>
<circle cx="570.25" cy="416.79" r="2.1" fill="#B3E8D4" stroke="#2e2e2e" stroke-width="0.55"/>
<circle cx="568.58" cy="432.32" r="2.1" fill="#B3E8D4" stroke="#2e2e2e" stroke-width="0.55"/>
<circle cx="558.94" cy="437.40" r="2.1" fill="#B3E8D4" stroke="#2e2e2e" stroke-width="0.55"/>
<circle cx="539.02" cy="437.56" r="2.1" fill="#B3E8D4" stroke="#2e2e2e" stroke-width="0.55"/>
<circle cx="560.61" cy="402.63" r="2.1" fill="#B3E8D4" stroke="#2e2e2e" stroke-width="0.55"/>
<circle cx="570.51" cy="405.93" r="2.1" fill="#B3E8D4" stroke="#2e2e2e" stroke-width="0.55"/>
<circle cx="560.42" cy="422.67" r="2.1" fill="#B3E8D4" stroke="#2e2e2e" stroke-width="0.55"/>
<circle cx="562.24" cy="432.49" r="2.1" fill="#B3E8D4" stroke="#2e2e2e" stroke-width="0.55"/>
<circle cx="553.48" cy="406.96" r="2.1" fill="#B3E8D4" stroke="#2e2e2e" stroke-width="0.55"/>
<circle cx="578.93" cy="432.57" r="2.1" fill="#B3E8D4" stroke="#2e2e2e" stroke-width="0.55"/>
<circle cx="576.49" cy="402.00" r="2.1" fill="#B3E8D4" stroke="#2e2e2e" stroke-width="0.55"/>
<circle cx="560.49" cy="438.49" r="2.1" fill="#B3E8D4" stroke="#2e2e2e" stroke-width="0.55"/>
<circle cx="544.65" cy="419.50" r="2.1" fill="#B3E8D4" stroke="#2e2e2e" stroke-width="0.55"/>
<circle cx="559.46" cy="417.72" r="2.1" fill="#B3E8D4" stroke="#2e2e2e" stroke-width="0.55"/>
<circle cx="536.16" cy="421.05" r="2.1" fill="#B3E8D4" stroke="#2e2e2e" stroke-width="0.55"/>
<circle cx="560.08" cy="438.53" r="2.1" fill="#B3E8D4" stroke="#2e2e2e" stroke-width="0.55"/>
<circle cx="574.05" cy="411.23" r="2.1" fill="#B3E8D4" stroke="#2e2e2e" stroke-width="0.55"/>
<circle cx="558.86" cy="419.02" r="2.1" fill="#B3E8D4" stroke="#2e2e2e" stroke-width="0.55"/>
<circle cx="538.03" cy="425.17" r="2.1" fill="#B3E8D4" stroke="#2e2e2e" stroke-width="0.55"/>
<circle cx="555.07" cy="417.86" r="2.1" fill="#B3E8D4" stroke="#2e2e2e" stroke-width="0.55"/>
<circle cx="580.05" cy="437.93" r="2.1" fill="#B3E8D4" stroke="#2e2e2e" stroke-width="0.55"/>
<circle cx="557.98" cy="404.92" r="2.1" fill="#B3E8D4" stroke="#2e2e2e" stroke-width="0.55"/>
<circle cx="556.05" cy="398.09" r="2.1" fill="#B3E8D4" stroke="#2e2e2e" stroke-width="0.55"/>
<circle cx="578.93" cy="431.15" r="2.1" fill="#B3E8D4" stroke="#2e2e2e" stroke-width="0.55"/>
<circle cx="550.34" cy="414.87" r="2.1" fill="#B3E8D4" stroke="#2e2e2e" stroke-width="0.55"/>
<circle cx="565.08" cy="401.19" r="2.1" fill="#B3E8D4" stroke="#2e2e2e" stroke-width="0.55"/>
<circle cx="541.14" cy="436.41" r="2.1" fill="#B3E8D4" stroke="#2e2e2e" stroke-width="0.55"/>
<circle cx="535.92" cy="429.41" r="2.1" fill="#B3E8D4" stroke="#2e2e2e" stroke-width="0.55"/>
<circle cx="545.94" cy="401.32" r="2.1" fill="#B3E8D4" stroke="#2e2e2e" stroke-width="0.55"/>
<circle cx="550.58" cy="424.98" r="2.1" fill="#B3E8D4" stroke="#2e2e2e" stroke-width="0.55"/>
<circle cx="565.17" cy="409.06" r="2.1" fill="#B3E8D4" stroke="#2e2e2e" stroke-width="0.55"/>
<circle cx="570.61" cy="397.03" r="2.1" fill="#B3E8D4" stroke="#2e2e2e" stroke-width="0.55"/>
<circle cx="559.81" cy="397.89" r="2.1" fill="#B3E8D4" stroke="#2e2e2e" stroke-width="0.55"/>
<circle cx="544.49" cy="404.03" r="2.1" fill="#B3E8D4" stroke="#2e2e2e" stroke-width="0.55"/>
<circle cx="556.20" cy="417.46" r="2.1" fill="#B3E8D4" stroke="#2e2e2e" stroke-width="0.55"/>
<circle cx="555.06" cy="410.04" r="2.1" fill="#B3E8D4" stroke="#2e2e2e" stroke-width="0.55"/>
<circle cx="542.63" cy="417.41" r="2.1" fill="#B3E8D4" stroke="#2e2e2e" stroke-width="0.55"/>
<circle cx="565.73" cy="401.80" r="2.1" fill="#B3E8D4" stroke="#2e2e2e" stroke-width="0.55"/>
<circle cx="560.75" cy="422.65" r="2.1" fill="#B3E8D4" stroke="#2e2e2e" stroke-width="0.55"/>
<circle cx="564.77" cy="432.86" r="2.1" fill="#B3E8D4" stroke="#2e2e2e" stroke-width="0.55"/>
<circle cx="546.20" cy="433.12" r="2.1" fill="#B3E8D4" stroke="#2e2e2e" stroke-width="0.55"/>
<circle cx="574.51" cy="427.56" r="2.1" fill="#B3E8D4" stroke="#2e2e2e" stroke-width="0.55"/>
<circle cx="550.28" cy="435.33" r="2.1" fill="#B3E8D4" stroke="#2e2e2e" stroke-width="0.55"/>
<circle cx="580.02" cy="407.12" r="2.1" fill="#B3E8D4" stroke="#2e2e2e" stroke-width="0.55"/>
<circle cx="583.72" cy="402.47" r="2.1" fill="#B3E8D4" stroke="#2e2e2e" stroke-width="0.55"/>
<circle cx="541.36" cy="434.60" r="2.1" fill="#B3E8D4" stroke="#2e2e2e" stroke-width="0.55"/>
<circle cx="570.40" cy="403.49" r="2.1" fill="#B3E8D4" stroke="#2e2e2e" stroke-width="0.55"/>
<circle cx="539.55" cy="404.46" r="2.1" fill="#B3E8D4" stroke="#2e2e2e" stroke-width="0.55"/>
<circle cx="555.46" cy="431.94" r="2.1" fill="#B3E8D4" stroke="#2e2e2e" stroke-width="0.55"/>
<circle cx="540.97" cy="429.92" r="2.1" fill="#B3E8D4" stroke="#2e2e2e" stroke-width="0.55"/>
<circle cx="568.38" cy="411.33" r="2.1" fill="#B3E8D4" stroke="#2e2e2e" stroke-width="0.55"/>
<circle cx="544.65" cy="392.85" r="2.1" fill="#B3E8D4" stroke="#2e2e2e" stroke-width="0.55"/>
<circle cx="579.46" cy="424.75" r="2.1" fill="#B3E8D4" stroke="#2e2e2e" stroke-width="0.55"/>
<circle cx="540.46" cy="438.48" r="2.1" fill="#B3E8D4" stroke="#2e2e2e" stroke-width="0.55"/>
<circle cx="571.95" cy="416.27" r="2.1" fill="#B3E8D4" stroke="#2e2e2e" stroke-width="0.55"/>
<circle cx="568.40" cy="416.13" r="2.1" fill="#B3E8D4" stroke="#2e2e2e" stroke-width="0.55"/>
<circle cx="538.26" cy="401.07" r="2.1" fill="#B3E8D4" stroke="#2e2e2e" stroke-width="0.55"/>
<circle cx="536.63" cy="397.10" r="2.1" fill="#B3E8D4" stroke="#2e2e2e" stroke-width="0.55"/>
<circle cx="560.03" cy="418.48" r="2.1" fill="#B3E8D4" stroke="#2e2e2e" stroke-width="0.55"/>
<circle cx="541.98" cy="419.30" r="2.1" fill="#B3E8D4" stroke="#2e2e2e" stroke-width="0.55"/>
<circle cx="544.79" cy="400.86" r="2.1" fill="#B3E8D4" stroke="#2e2e2e" stroke-width="0.55"/>
<circle cx="583.32" cy="432.33" r="2.1" fill="#B3E8D4" stroke="#2e2e2e" stroke-width="0.55"/>
<circle cx="539.47" cy="436.49" r="2.1" fill="#B3E8D4" stroke="#2e2e2e" stroke-width="0.55"/>
<circle cx="581.42" cy="394.97" r="2.1" fill="#B3E8D4" stroke="#2e2e2e" stroke-width="0.55"/>
<circle cx="572.27" cy="414.18" r="2.1" fill="#B3E8D4" stroke="#2e2e2e" stroke-width="0.55"/>
<circle cx="557.68" cy="407.69" r="2.1" fill="#B3E8D4" stroke="#2e2e2e" stroke-width="0.55"/>
<circle cx="555.87" cy="416.73" r="2.1" fill="#B3E8D4" stroke="#2e2e2e" stroke-width="0.55"/>
<circle cx="535.45" cy="420.84" r="2.1" fill="#B3E8D4" stroke="#2e2e2e" stroke-width="0.55"/>
<circle cx="576.17" cy="462.43" r="2.1" fill="#B3E8D4" stroke="#2e2e2e" stroke-width="0.55"/>
<circle cx="557.04" cy="445.80" r="2.1" fill="#B3E8D4" stroke="#2e2e2e" stroke-width="0.55"/>
<circle cx="554.66" cy="463.66" r="2.1" fill="#B3E8D4" stroke="#2e2e2e" stroke-width="0.55"/>
<circle cx="542.89" cy="446.24" r="2.1" fill="#B3E8D4" stroke="#2e2e2e" stroke-width="0.55"/>
<circle cx="535.56" cy="456.40" r="2.1" fill="#B3E8D4" stroke="#2e2e2e" stroke-width="0.55"/>
<circle cx="574.08" cy="468.58" r="2.1" fill="#B3E8D4" stroke="#2e2e2e" stroke-width="0.55"/>
<circle cx="576.98" cy="462.55" r="2.1" fill="#B3E8D4" stroke="#2e2e2e" stroke-width="0.55"/>
<circle cx="554.62" cy="460.14" r="2.1" fill="#B3E8D4" stroke="#2e2e2e" stroke-width="0.55"/>
<circle cx="559.51" cy="459.19" r="2.1" fill="#B3E8D4" stroke="#2e2e2e" stroke-width="0.55"/>
<circle cx="574.24" cy="471.45" r="2.1" fill="#B3E8D4" stroke="#2e2e2e" stroke-width="0.55"/>
<circle cx="579.45" cy="448.26" r="2.1" fill="#B3E8D4" stroke="#2e2e2e" stroke-width="0.55"/>
<circle cx="572.92" cy="463.82" r="2.1" fill="#B3E8D4" stroke="#2e2e2e" stroke-width="0.55"/>
<circle cx="554.68" cy="466.07" r="2.1" fill="#B3E8D4" stroke="#2e2e2e" stroke-width="0.55"/>
<circle cx="577.91" cy="468.69" r="2.1" fill="#B3E8D4" stroke="#2e2e2e" stroke-width="0.55"/>
<circle cx="572.40" cy="462.23" r="2.1" fill="#B3E8D4" stroke="#2e2e2e" stroke-width="0.55"/>
<circle cx="554.68" cy="464.49" r="2.1" fill="#B3E8D4" stroke="#2e2e2e" stroke-width="0.55"/>
<circle cx="538.26" cy="463.12" r="2.1" fill="#B3E8D4" stroke="#2e2e2e" stroke-width="0.55"/>
<circle cx="557.77" cy="450.93" r="2.1" fill="#B3E8D4" stroke="#2e2e2e" stroke-width="0.55"/>
<circle cx="552.23" cy="440.34" r="2.1" fill="#B3E8D4" stroke="#2e2e2e" stroke-width="0.55"/>
<circle cx="565.38" cy="460.44" r="2.1" fill="#B3E8D4" stroke="#2e2e2e" stroke-width="0.55"/>
<circle cx="581.09" cy="447.43" r="2.1" fill="#B3E8D4" stroke="#2e2e2e" stroke-width="0.55"/>
<circle cx="551.35" cy="461.31" r="2.1" fill="#B3E8D4" stroke="#2e2e2e" stroke-width="0.55"/>
<circle cx="562.71" cy="461.11" r="2.1" fill="#B3E8D4" stroke="#2e2e2e" stroke-width="0.55"/>
<circle cx="553.89" cy="457.06" r="2.1" fill="#B3E8D4" stroke="#2e2e2e" stroke-width="0.55"/>
<circle cx="566.27" cy="472.00" r="2.1" fill="#B3E8D4" stroke="#2e2e2e" stroke-width="0.55"/>
<circle cx="572.13" cy="462.44" r="2.1" fill="#B3E8D4" stroke="#2e2e2e" stroke-width="0.55"/>
<circle cx="535.92" cy="471.36" r="2.1" fill="#B3E8D4" stroke="#2e2e2e" stroke-width="0.55"/>
<circle cx="571.00" cy="459.69" r="2.1" fill="#B3E8D4" stroke="#2e2e2e" stroke-width="0.55"/>
<circle cx="554.48" cy="448.21" r="2.1" fill="#B3E8D4" stroke="#2e2e2e" stroke-width="0.55"/>
<circle cx="544.38" cy="441.61" r="2.1" fill="#B3E8D4" stroke="#2e2e2e" stroke-width="0.55"/>
<circle cx="539.62" cy="452.02" r="2.1" fill="#B3E8D4" stroke="#2e2e2e" stroke-width="0.55"/>
<circle cx="579.18" cy="448.03" r="2.1" fill="#B3E8D4" stroke="#2e2e2e" stroke-width="0.55"/>
<circle cx="559.68" cy="457.60" r="2.1" fill="#B3E8D4" stroke="#2e2e2e" stroke-width="0.55"/>
<circle cx="562.63" cy="470.95" r="2.1" fill="#B3E8D4" stroke="#2e2e2e" stroke-width="0.55"/>
<circle cx="566.06" cy="471.84" r="2.1" fill="#B3E8D4" stroke="#2e2e2e" stroke-width="0.55"/>
<circle cx="538.53" cy="465.90" r="2.1" fill="#B3E8D4" stroke="#2e2e2e" stroke-width="0.55"/>
<circle cx="572.00" cy="459.12" r="2.1" fill="#B3E8D4" stroke="#2e2e2e" stroke-width="0.55"/>
<circle cx="580.38" cy="441.44" r="2.1" fill="#B3E8D4" stroke="#2e2e2e" stroke-width="0.55"/>
<circle cx="557.92" cy="445.12" r="2.1" fill="#B3E8D4" stroke="#2e2e2e" stroke-width="0.55"/>
<circle cx="559.08" cy="445.41" r="2.1" fill="#B3E8D4" stroke="#2e2e2e" stroke-width="0.55"/>
<circle cx="537.67" cy="459.56" r="2.1" fill="#B3E8D4" stroke="#2e2e2e" stroke-width="0.55"/>
<circle cx="555.41" cy="470.25" r="2.1" fill="#B3E8D4" stroke="#2e2e2e" stroke-width="0.55"/>
<circle cx="564.09" cy="456.86" r="2.1" fill="#B3E8D4" stroke="#2e2e2e" stroke-width="0.55"/>
<circle cx="548.80" cy="451.70" r="2.1" fill="#B3E8D4" stroke="#2e2e2e" stroke-width="0.55"/>
<circle cx="562.27" cy="460.96" r="2.1" fill="#B3E8D4" stroke="#2e2e2e" stroke-width="0.55"/>
<circle cx="569.91" cy="449.07" r="2.1" fill="#B3E8D4" stroke="#2e2e2e" stroke-width="0.55"/>
<circle cx="535.49" cy="449.47" r="2.1" fill="#B3E8D4" stroke="#2e2e2e" stroke-width="0.55"/>
<circle cx="536.90" cy="447.84" r="2.1" fill="#B3E8D4" stroke="#2e2e2e" stroke-width="0.55"/>
<circle cx="571.78" cy="445.01" r="2.1" fill="#B3E8D4" stroke="#2e2e2e" stroke-width="0.55"/>
<circle cx="578.78" cy="452.48" r="2.1" fill="#B3E8D4" stroke="#2e2e2e" stroke-width="0.55"/>
<circle cx="537.26" cy="463.95" r="2.1" fill="#B3E8D4" stroke="#2e2e2e" stroke-width="0.55"/>
<circle cx="581.08" cy="471.64" r="2.1" fill="#B3E8D4" stroke="#2e2e2e" stroke-width="0.55"/>
<circle cx="579.17" cy="442.35" r="2.1" fill="#B3E8D4" stroke="#2e2e2e" stroke-width="0.55"/>
<circle cx="558.20" cy="453.74" r="2.1" fill="#B3E8D4" stroke="#2e2e2e" stroke-width="0.55"/>
<circle cx="546.74" cy="471.14" r="2.1" fill="#B3E8D4" stroke="#2e2e2e" stroke-width="0.55"/>
<circle cx="580.73" cy="456.75" r="2.1" fill="#B3E8D4" stroke="#2e2e2e" stroke-width="0.55"/>
<circle cx="557.75" cy="463.13" r="2.1" fill="#B3E8D4" stroke="#2e2e2e" stroke-width="0.55"/>
<circle cx="574.82" cy="471.32" r="2.1" fill="#B3E8D4" stroke="#2e2e2e" stroke-width="0.55"/>
<circle cx="540.44" cy="459.32" r="2.1" fill="#B3E8D4" stroke="#2e2e2e" stroke-width="0.55"/>
<circle cx="557.13" cy="459.98" r="2.1" fill="#B3E8D4" stroke="#2e2e2e" stroke-width="0.55"/>
<circle cx="537.35" cy="446.52" r="2.1" fill="#B3E8D4" stroke="#2e2e2e" stroke-width="0.55"/>
<circle cx="540.89" cy="456.90" r="2.1" fill="#B3E8D4" stroke="#2e2e2e" stroke-width="0.55"/>
<circle cx="567.53" cy="454.17" r="2.1" fill="#B3E8D4" stroke="#2e2e2e" stroke-width="0.55"/>
<circle cx="547.64" cy="454.58" r="2.1" fill="#B3E8D4" stroke="#2e2e2e" stroke-width="0.55"/>
<circle cx="555.36" cy="458.63" r="2.1" fill="#B3E8D4" stroke="#2e2e2e" stroke-width="0.55"/>
<circle cx="560.81" cy="464.89" r="2.1" fill="#B3E8D4" stroke="#2e2e2e" stroke-width="0.55"/>
<circle cx="581.48" cy="471.92" r="2.1" fill="#B3E8D4" stroke="#2e2e2e" stroke-width="0.55"/>
<circle cx="546.48" cy="463.50" r="2.1" fill="#B3E8D4" stroke="#2e2e2e" stroke-width="0.55"/>
<circle cx="578.54" cy="443.64" r="2.1" fill="#B3E8D4" stroke="#2e2e2e" stroke-width="0.55"/>
<circle cx="565.42" cy="465.10" r="2.1" fill="#B3E8D4" stroke="#2e2e2e" stroke-width="0.55"/>
<circle cx="548.10" cy="451.49" r="2.1" fill="#B3E8D4" stroke="#2e2e2e" stroke-width="0.55"/>
<circle cx="562.48" cy="461.92" r="2.1" fill="#B3E8D4" stroke="#2e2e2e" stroke-width="0.55"/>
<circle cx="565.82" cy="458.93" r="2.1" fill="#B3E8D4" stroke="#2e2e2e" stroke-width="0.55"/>
<circle cx="544.10" cy="464.11" r="2.1" fill="#B3E8D4" stroke="#2e2e2e" stroke-width="0.55"/>
<circle cx="582.81" cy="447.97" r="2.1" fill="#B3E8D4" stroke="#2e2e2e" stroke-width="0.55"/>
<circle cx="577.86" cy="469.30" r="2.1" fill="#B3E8D4" stroke="#2e2e2e" stroke-width="0.55"/>
<circle cx="537.78" cy="441.26" r="2.1" fill="#B3E8D4" stroke="#2e2e2e" stroke-width="0.55"/>
<circle cx="555.63" cy="448.67" r="2.1" fill="#B3E8D4" stroke="#2e2e2e" stroke-width="0.55"/>
<circle cx="539.82" cy="459.95" r="2.1" fill="#B3E8D4" stroke="#2e2e2e" stroke-width="0.55"/>
<circle cx="538.35" cy="457.33" r="2.1" fill="#B3E8D4" stroke="#2e2e2e" stroke-width="0.55"/>
<circle cx="567.94" cy="442.77" r="2.1" fill="#B3E8D4" stroke="#2e2e2e" stroke-width="0.55"/>
<circle cx="565.72" cy="457.62" r="2.1" fill="#B3E8D4" stroke="#2e2e2e" stroke-width="0.55"/>
<circle cx="558.25" cy="451.94" r="2.1" fill="#B3E8D4" stroke="#2e2e2e" stroke-width="0.55"/>
<circle cx="551.64" cy="446.74" r="2.1" fill="#B3E8D4" stroke="#2e2e2e" stroke-width="0.55"/>
<circle cx="575.89" cy="463.83" r="2.1" fill="#B3E8D4" stroke="#2e2e2e" stroke-width="0.55"/>
<circle cx="540.67" cy="360.53" r="2.1" fill="#B3E8D4" stroke="#2e2e2e" stroke-width="0.55"/>
<circle cx="565.36" cy="385.51" r="2.1" fill="#B3E8D4" stroke="#2e2e2e" stroke-width="0.55"/>
<circle cx="545.25" cy="384.14" r="2.1" fill="#B3E8D4" stroke="#2e2e2e" stroke-width="0.55"/>
<circle cx="547.45" cy="372.43" r="2.1" fill="#B3E8D4" stroke="#2e2e2e" stroke-width="0.55"/>
<circle cx="552.88" cy="385.54" r="2.1" fill="#B3E8D4" stroke="#2e2e2e" stroke-width="0.55"/>
<circle cx="583.27" cy="380.22" r="2.1" fill="#B3E8D4" stroke="#2e2e2e" stroke-width="0.55"/>
<circle cx="561.68" cy="369.06" r="2.1" fill="#B3E8D4" stroke="#2e2e2e" stroke-width="0.55"/>
<circle cx="579.92" cy="383.37" r="2.1" fill="#B3E8D4" stroke="#2e2e2e" stroke-width="0.55"/>
<circle cx="552.89" cy="372.54" r="2.1" fill="#B3E8D4" stroke="#2e2e2e" stroke-width="0.55"/>
<circle cx="577.68" cy="361.30" r="2.1" fill="#B3E8D4" stroke="#2e2e2e" stroke-width="0.55"/>
<circle cx="538.87" cy="360.67" r="2.1" fill="#B3E8D4" stroke="#2e2e2e" stroke-width="0.55"/>
<circle cx="558.56" cy="377.18" r="2.1" fill="#B3E8D4" stroke="#2e2e2e" stroke-width="0.55"/>
<circle cx="549.44" cy="381.30" r="2.1" fill="#B3E8D4" stroke="#2e2e2e" stroke-width="0.55"/>
<circle cx="538.53" cy="384.37" r="2.1" fill="#B3E8D4" stroke="#2e2e2e" stroke-width="0.55"/>
<circle cx="567.24" cy="365.25" r="2.1" fill="#B3E8D4" stroke="#2e2e2e" stroke-width="0.55"/>
<circle cx="549.69" cy="360.78" r="2.1" fill="#B3E8D4" stroke="#2e2e2e" stroke-width="0.55"/>
<circle cx="568.81" cy="382.65" r="2.1" fill="#B3E8D4" stroke="#2e2e2e" stroke-width="0.55"/>
<circle cx="541.80" cy="367.62" r="2.1" fill="#B3E8D4" stroke="#2e2e2e" stroke-width="0.55"/>
<circle cx="570.37" cy="370.17" r="2.1" fill="#B3E8D4" stroke="#2e2e2e" stroke-width="0.55"/>
<circle cx="540.55" cy="370.46" r="2.1" fill="#B3E8D4" stroke="#2e2e2e" stroke-width="0.55"/>
<circle cx="562.69" cy="382.12" r="2.1" fill="#B3E8D4" stroke="#2e2e2e" stroke-width="0.55"/>
<circle cx="580.86" cy="389.23" r="2.1" fill="#B3E8D4" stroke="#2e2e2e" stroke-width="0.55"/>
<circle cx="556.26" cy="389.05" r="2.1" fill="#B3E8D4" stroke="#2e2e2e" stroke-width="0.55"/>
<circle cx="549.73" cy="385.30" r="2.1" fill="#B3E8D4" stroke="#2e2e2e" stroke-width="0.55"/>
<circle cx="554.38" cy="368.80" r="2.1" fill="#B3E8D4" stroke="#2e2e2e" stroke-width="0.55"/>
<circle cx="578.64" cy="389.78" r="2.1" fill="#B3E8D4" stroke="#2e2e2e" stroke-width="0.55"/>
<circle cx="552.52" cy="366.44" r="2.1" fill="#B3E8D4" stroke="#2e2e2e" stroke-width="0.55"/>
<circle cx="552.60" cy="370.43" r="2.1" fill="#B3E8D4" stroke="#2e2e2e" stroke-width="0.55"/>
<circle cx="553.79" cy="371.45" r="2.1" fill="#B3E8D4" stroke="#2e2e2e" stroke-width="0.55"/>
<circle cx="562.43" cy="364.63" r="2.1" fill="#B3E8D4" stroke="#2e2e2e" stroke-width="0.55"/>
<circle cx="561.29" cy="385.10" r="2.1" fill="#B3E8D4" stroke="#2e2e2e" stroke-width="0.55"/>
<circle cx="562.38" cy="386.44" r="2.1" fill="#B3E8D4" stroke="#2e2e2e" stroke-width="0.55"/>
<circle cx="571.99" cy="364.00" r="2.1" fill="#B3E8D4" stroke="#2e2e2e" stroke-width="0.55"/>
<circle cx="548.59" cy="387.95" r="2.1" fill="#B3E8D4" stroke="#2e2e2e" stroke-width="0.55"/>
<circle cx="560.07" cy="358.76" r="2.1" fill="#B3E8D4" stroke="#2e2e2e" stroke-width="0.55"/>
<circle cx="562.61" cy="376.50" r="2.1" fill="#B3E8D4" stroke="#2e2e2e" stroke-width="0.55"/>
<circle cx="566.71" cy="390.86" r="2.1" fill="#B3E8D4" stroke="#2e2e2e" stroke-width="0.55"/>
<circle cx="537.94" cy="385.35" r="2.1" fill="#B3E8D4" stroke="#2e2e2e" stroke-width="0.55"/>
<circle cx="573.42" cy="376.59" r="2.1" fill="#B3E8D4" stroke="#2e2e2e" stroke-width="0.55"/>
<circle cx="538.80" cy="360.86" r="2.1" fill="#B3E8D4" stroke="#2e2e2e" stroke-width="0.55"/>
<circle cx="642.95" cy="292.33" r="2.1" fill="#FDD9BD" stroke="#2e2e2e" stroke-width="0.55"/>
<circle cx="617.74" cy="312.33" r="2.1" fill="#FDD9BD" stroke="#2e2e2e" stroke-width="0.55"/>
<circle cx="643.77" cy="315.62" r="2.1" fill="#FDD9BD" stroke="#2e2e2e" stroke-width="0.55"/>
<circle cx="659.38" cy="314.25" r="2.1" fill="#FDD9BD" stroke="#2e2e2e" stroke-width="0.55"/>
<circle cx="627.33" cy="318.90" r="2.1" fill="#FDD9BD" stroke="#2e2e2e" stroke-width="0.55"/>
<circle cx="629.25" cy="321.64" r="2.1" fill="#FDD9BD" stroke="#2e2e2e" stroke-width="0.55"/>
<circle cx="628.42" cy="323.29" r="2.1" fill="#FDD9BD" stroke="#2e2e2e" stroke-width="0.55"/>
<circle cx="639.66" cy="323.84" r="2.1" fill="#FDD9BD" stroke="#2e2e2e" stroke-width="0.55"/>
<circle cx="644.32" cy="327.12" r="2.1" fill="#FDD9BD" stroke="#2e2e2e" stroke-width="0.55"/>
<circle cx="646.51" cy="326.03" r="2.1" fill="#FDD9BD" stroke="#2e2e2e" stroke-width="0.55"/>
<circle cx="614.18" cy="327.95" r="2.1" fill="#FDD9BD" stroke="#2e2e2e" stroke-width="0.55"/>
<circle cx="620.21" cy="327.12" r="2.1" fill="#FDD9BD" stroke="#2e2e2e" stroke-width="0.55"/>
<circle cx="621.85" cy="330.68" r="2.1" fill="#FDD9BD" stroke="#2e2e2e" stroke-width="0.55"/>
<circle cx="627.33" cy="335.34" r="2.1" fill="#FDD9BD" stroke="#2e2e2e" stroke-width="0.55"/>
<circle cx="626.51" cy="338.90" r="2.1" fill="#FDD9BD" stroke="#2e2e2e" stroke-width="0.55"/>
<circle cx="613.63" cy="340.27" r="2.1" fill="#FDD9BD" stroke="#2e2e2e" stroke-width="0.55"/>
<circle cx="656.64" cy="338.90" r="2.1" fill="#FDD9BD" stroke="#2e2e2e" stroke-width="0.55"/>
<circle cx="651.99" cy="341.64" r="2.1" fill="#FDD9BD" stroke="#2e2e2e" stroke-width="0.55"/>
<circle cx="655.27" cy="344.93" r="2.1" fill="#FDD9BD" stroke="#2e2e2e" stroke-width="0.55"/>
<circle cx="643.77" cy="343.01" r="2.1" fill="#FDD9BD" stroke="#2e2e2e" stroke-width="0.55"/>
<circle cx="619.66" cy="351.78" r="2.1" fill="#FDD9BD" stroke="#2e2e2e" stroke-width="0.55"/>
<circle cx="624.59" cy="350.68" r="2.1" fill="#FDD9BD" stroke="#2e2e2e" stroke-width="0.55"/>
<circle cx="627.88" cy="351.78" r="2.1" fill="#FDD9BD" stroke="#2e2e2e" stroke-width="0.55"/>
<circle cx="631.16" cy="353.42" r="2.1" fill="#FDD9BD" stroke="#2e2e2e" stroke-width="0.55"/>
<circle cx="630.62" cy="356.16" r="2.1" fill="#FDD9BD" stroke="#2e2e2e" stroke-width="0.55"/>
<circle cx="653.08" cy="351.23" r="2.1" fill="#FDD9BD" stroke="#2e2e2e" stroke-width="0.55"/>
<circle cx="657.47" cy="354.52" r="2.1" fill="#FDD9BD" stroke="#2e2e2e" stroke-width="0.55"/>
<circle cx="651.16" cy="356.16" r="2.1" fill="#FDD9BD" stroke="#2e2e2e" stroke-width="0.55"/>
<circle cx="615.55" cy="361.64" r="2.1" fill="#FDD9BD" stroke="#2e2e2e" stroke-width="0.55"/>
<circle cx="623.22" cy="360.82" r="2.1" fill="#FDD9BD" stroke="#2e2e2e" stroke-width="0.55"/>
<circle cx="630.07" cy="361.64" r="2.1" fill="#FDD9BD" stroke="#2e2e2e" stroke-width="0.55"/>
<circle cx="616.92" cy="367.12" r="2.1" fill="#FDD9BD" stroke="#2e2e2e" stroke-width="0.55"/>
<circle cx="622.40" cy="364.93" r="2.1" fill="#FDD9BD" stroke="#2e2e2e" stroke-width="0.55"/>
<circle cx="625.14" cy="368.22" r="2.1" fill="#FDD9BD" stroke="#2e2e2e" stroke-width="0.55"/>
<circle cx="627.88" cy="367.12" r="2.1" fill="#FDD9BD" stroke="#2e2e2e" stroke-width="0.55"/>
<circle cx="635.55" cy="369.04" r="2.1" fill="#FDD9BD" stroke="#2e2e2e" stroke-width="0.55"/>
<circle cx="640.21" cy="364.93" r="2.1" fill="#FDD9BD" stroke="#2e2e2e" stroke-width="0.55"/>
<circle cx="644.32" cy="369.04" r="2.1" fill="#FDD9BD" stroke="#2e2e2e" stroke-width="0.55"/>
<circle cx="652.53" cy="362.19" r="2.1" fill="#FDD9BD" stroke="#2e2e2e" stroke-width="0.55"/>
<circle cx="656.64" cy="362.74" r="2.1" fill="#FDD9BD" stroke="#2e2e2e" stroke-width="0.55"/>
<circle cx="653.90" cy="367.67" r="2.1" fill="#FDD9BD" stroke="#2e2e2e" stroke-width="0.55"/>
<circle cx="614.73" cy="370.41" r="2.1" fill="#FDD9BD" stroke="#2e2e2e" stroke-width="0.55"/>
<circle cx="620.21" cy="373.15" r="2.1" fill="#FDD9BD" stroke="#2e2e2e" stroke-width="0.55"/>
<circle cx="624.59" cy="374.52" r="2.1" fill="#FDD9BD" stroke="#2e2e2e" stroke-width="0.55"/>
<circle cx="630.62" cy="376.44" r="2.1" fill="#FDD9BD" stroke="#2e2e2e" stroke-width="0.55"/>
<circle cx="634.73" cy="371.78" r="2.1" fill="#FDD9BD" stroke="#2e2e2e" stroke-width="0.55"/>
<circle cx="638.84" cy="373.15" r="2.1" fill="#FDD9BD" stroke="#2e2e2e" stroke-width="0.55"/>
<circle cx="646.51" cy="376.44" r="2.1" fill="#FDD9BD" stroke="#2e2e2e" stroke-width="0.55"/>
<circle cx="652.53" cy="374.52" r="2.1" fill="#FDD9BD" stroke="#2e2e2e" stroke-width="0.55"/>
<circle cx="616.37" cy="380.00" r="2.1" fill="#FDD9BD" stroke="#2e2e2e" stroke-width="0.55"/>
<circle cx="621.03" cy="381.37" r="2.1" fill="#FDD9BD" stroke="#2e2e2e" stroke-width="0.55"/>
<circle cx="627.88" cy="381.92" r="2.1" fill="#FDD9BD" stroke="#2e2e2e" stroke-width="0.55"/>
<circle cx="633.36" cy="381.37" r="2.1" fill="#FDD9BD" stroke="#2e2e2e" stroke-width="0.55"/>
<circle cx="637.47" cy="378.63" r="2.1" fill="#FDD9BD" stroke="#2e2e2e" stroke-width="0.55"/>
<circle cx="641.03" cy="378.08" r="2.1" fill="#FDD9BD" stroke="#2e2e2e" stroke-width="0.55"/>
<circle cx="648.42" cy="380.82" r="2.1" fill="#FDD9BD" stroke="#2e2e2e" stroke-width="0.55"/>
<circle cx="652.53" cy="382.74" r="2.1" fill="#FDD9BD" stroke="#2e2e2e" stroke-width="0.55"/>
<circle cx="658.56" cy="380.00" r="2.1" fill="#FDD9BD" stroke="#2e2e2e" stroke-width="0.55"/>
<circle cx="613.63" cy="382.74" r="2.1" fill="#FDD9BD" stroke="#2e2e2e" stroke-width="0.55"/>
<circle cx="618.29" cy="385.48" r="2.1" fill="#FDD9BD" stroke="#2e2e2e" stroke-width="0.55"/>
<circle cx="622.95" cy="384.11" r="2.1" fill="#FDD9BD" stroke="#2e2e2e" stroke-width="0.55"/>
<circle cx="629.25" cy="385.48" r="2.1" fill="#FDD9BD" stroke="#2e2e2e" stroke-width="0.55"/>
<circle cx="641.58" cy="386.85" r="2.1" fill="#FDD9BD" stroke="#2e2e2e" stroke-width="0.55"/>
<circle cx="649.79" cy="385.48" r="2.1" fill="#FDD9BD" stroke="#2e2e2e" stroke-width="0.55"/>
<circle cx="615.55" cy="390.96" r="2.1" fill="#FDD9BD" stroke="#2e2e2e" stroke-width="0.55"/>
<circle cx="619.11" cy="392.33" r="2.1" fill="#FDD9BD" stroke="#2e2e2e" stroke-width="0.55"/>
<circle cx="623.77" cy="392.88" r="2.1" fill="#FDD9BD" stroke="#2e2e2e" stroke-width="0.55"/>
<circle cx="627.33" cy="392.33" r="2.1" fill="#FDD9BD" stroke="#2e2e2e" stroke-width="0.55"/>
<circle cx="630.07" cy="393.70" r="2.1" fill="#FDD9BD" stroke="#2e2e2e" stroke-width="0.55"/>
<circle cx="635.55" cy="392.88" r="2.1" fill="#FDD9BD" stroke="#2e2e2e" stroke-width="0.55"/>
<circle cx="645.68" cy="390.96" r="2.1" fill="#FDD9BD" stroke="#2e2e2e" stroke-width="0.55"/>
<circle cx="648.42" cy="390.96" r="2.1" fill="#FDD9BD" stroke="#2e2e2e" stroke-width="0.55"/>
<circle cx="652.53" cy="390.96" r="2.1" fill="#FDD9BD" stroke="#2e2e2e" stroke-width="0.55"/>
<circle cx="653.90" cy="389.59" r="2.1" fill="#FDD9BD" stroke="#2e2e2e" stroke-width="0.55"/>
<circle cx="658.01" cy="390.96" r="2.1" fill="#FDD9BD" stroke="#2e2e2e" stroke-width="0.55"/>
<circle cx="616.92" cy="397.81" r="2.1" fill="#FDD9BD" stroke="#2e2e2e" stroke-width="0.55"/>
<circle cx="622.40" cy="396.44" r="2.1" fill="#FDD9BD" stroke="#2e2e2e" stroke-width="0.55"/>
<circle cx="623.77" cy="399.18" r="2.1" fill="#FDD9BD" stroke="#2e2e2e" stroke-width="0.55"/>
<circle cx="631.99" cy="396.44" r="2.1" fill="#FDD9BD" stroke="#2e2e2e" stroke-width="0.55"/>
<circle cx="636.10" cy="397.26" r="2.1" fill="#FDD9BD" stroke="#2e2e2e" stroke-width="0.55"/>
<circle cx="620.21" cy="401.92" r="2.1" fill="#FDD9BD" stroke="#2e2e2e" stroke-width="0.55"/>
<circle cx="623.77" cy="406.03" r="2.1" fill="#FDD9BD" stroke="#2e2e2e" stroke-width="0.55"/>
<circle cx="655.27" cy="401.92" r="2.1" fill="#FDD9BD" stroke="#2e2e2e" stroke-width="0.55"/>
<circle cx="656.64" cy="403.29" r="2.1" fill="#FDD9BD" stroke="#2e2e2e" stroke-width="0.55"/>
<circle cx="642.95" cy="408.22" r="2.1" fill="#FDD9BD" stroke="#2e2e2e" stroke-width="0.55"/>
<circle cx="616.92" cy="412.88" r="2.1" fill="#FDD9BD" stroke="#2e2e2e" stroke-width="0.55"/>
<circle cx="619.66" cy="414.79" r="2.1" fill="#FDD9BD" stroke="#2e2e2e" stroke-width="0.55"/>
<circle cx="621.58" cy="412.88" r="2.1" fill="#FDD9BD" stroke="#2e2e2e" stroke-width="0.55"/>
<circle cx="629.25" cy="410.96" r="2.1" fill="#FDD9BD" stroke="#2e2e2e" stroke-width="0.55"/>
<circle cx="629.25" cy="413.42" r="2.1" fill="#FDD9BD" stroke="#2e2e2e" stroke-width="0.55"/>
<circle cx="633.36" cy="411.51" r="2.1" fill="#FDD9BD" stroke="#2e2e2e" stroke-width="0.55"/>
<circle cx="658.56" cy="411.51" r="2.1" fill="#FDD9BD" stroke="#2e2e2e" stroke-width="0.55"/>
<circle cx="619.11" cy="415.62" r="2.1" fill="#FDD9BD" stroke="#2e2e2e" stroke-width="0.55"/>
<circle cx="647.72" cy="377.42" r="2.1" fill="#FDD9BD" stroke="#2e2e2e" stroke-width="0.55"/>
<circle cx="642.67" cy="368.01" r="2.1" fill="#FDD9BD" stroke="#2e2e2e" stroke-width="0.55"/>
<circle cx="618.65" cy="371.39" r="2.1" fill="#FDD9BD" stroke="#2e2e2e" stroke-width="0.55"/>
<circle cx="623.63" cy="348.86" r="2.1" fill="#FDD9BD" stroke="#2e2e2e" stroke-width="0.55"/>
<circle cx="622.40" cy="373.87" r="2.1" fill="#FDD9BD" stroke="#2e2e2e" stroke-width="0.55"/>
<circle cx="649.07" cy="352.66" r="2.1" fill="#FDD9BD" stroke="#2e2e2e" stroke-width="0.55"/>
<circle cx="630.92" cy="349.97" r="2.1" fill="#FDD9BD" stroke="#2e2e2e" stroke-width="0.55"/>
<circle cx="644.55" cy="352.15" r="2.1" fill="#FDD9BD" stroke="#2e2e2e" stroke-width="0.55"/>
<circle cx="646.93" cy="372.79" r="2.1" fill="#FDD9BD" stroke="#2e2e2e" stroke-width="0.55"/>
<circle cx="646.30" cy="386.16" r="2.1" fill="#FDD9BD" stroke="#2e2e2e" stroke-width="0.55"/>
<circle cx="652.09" cy="363.62" r="2.1" fill="#FDD9BD" stroke="#2e2e2e" stroke-width="0.55"/>
<circle cx="644.27" cy="389.54" r="2.1" fill="#FDD9BD" stroke="#2e2e2e" stroke-width="0.55"/>
<circle cx="652.46" cy="348.94" r="2.1" fill="#FDD9BD" stroke="#2e2e2e" stroke-width="0.55"/>
<circle cx="655.14" cy="394.08" r="2.1" fill="#FDD9BD" stroke="#2e2e2e" stroke-width="0.55"/>
<circle cx="637.27" cy="366.00" r="2.1" fill="#FDD9BD" stroke="#2e2e2e" stroke-width="0.55"/>
<circle cx="646.39" cy="377.40" r="2.1" fill="#FDD9BD" stroke="#2e2e2e" stroke-width="0.55"/>
<circle cx="632.20" cy="356.15" r="2.1" fill="#FDD9BD" stroke="#2e2e2e" stroke-width="0.55"/>
<circle cx="618.76" cy="369.30" r="2.1" fill="#FDD9BD" stroke="#2e2e2e" stroke-width="0.55"/>
<circle cx="630.00" cy="377.35" r="2.1" fill="#FDD9BD" stroke="#2e2e2e" stroke-width="0.55"/>
<circle cx="632.42" cy="381.40" r="2.1" fill="#FDD9BD" stroke="#2e2e2e" stroke-width="0.55"/>
<line x1="406.05" y1="386.60" x2="406.05" y2="415.00" stroke="#262626" stroke-width="0.9" />
<line x1="406.05" y1="448.10" x2="406.05" y2="465.80" stroke="#262626" stroke-width="0.9" />
<rect x="377.50" y="415.00" width="57.10" height="33.10" fill="none" stroke="#262626" stroke-width="0.9" />
<line x1="377.50" y1="435.50" x2="434.60" y2="435.50" stroke="#222" stroke-width="1.7" />
<line x1="482.60" y1="365.00" x2="482.60" y2="390.00" stroke="#262626" stroke-width="0.9" />
<line x1="482.60" y1="407.00" x2="482.60" y2="427.10" stroke="#262626" stroke-width="0.9" />
<rect x="453.80" y="390.00" width="57.60" height="17.00" fill="none" stroke="#262626" stroke-width="0.9" />
<line x1="453.80" y1="400.60" x2="511.40" y2="400.60" stroke="#222" stroke-width="1.7" />
<line x1="559.10" y1="347.10" x2="559.10" y2="399.20" stroke="#262626" stroke-width="0.9" />
<line x1="559.10" y1="435.50" x2="559.10" y2="479.50" stroke="#262626" stroke-width="0.9" />
<rect x="530.20" y="399.20" width="57.80" height="36.30" fill="none" stroke="#262626" stroke-width="0.9" />
<line x1="530.20" y1="414.90" x2="588.00" y2="414.90" stroke="#222" stroke-width="1.7" />
<line x1="636.10" y1="312.50" x2="636.10" y2="358.60" stroke="#262626" stroke-width="0.9" />
<line x1="636.10" y1="390.20" x2="636.10" y2="414.80" stroke="#262626" stroke-width="0.9" />
<rect x="607.00" y="358.60" width="58.20" height="31.60" fill="none" stroke="#262626" stroke-width="0.9" />
<line x1="607.00" y1="372.50" x2="665.20" y2="372.50" stroke="#222" stroke-width="1.7" />
<line x1="359.80" y1="283.20" x2="359.80" y2="489.40" stroke="#222" stroke-width="0.9" />
<line x1="359.30" y1="489.00" x2="682.20" y2="489.00" stroke="#222" stroke-width="0.9" />
<line x1="357.70" y1="433.60" x2="359.70" y2="433.60" stroke="#222" stroke-width="0.8" />
<text x="357.80" y="436.10" font-size="7.0" text-anchor="end" fill="#111" stroke="#111" stroke-width="0.22" >0</text>
<line x1="357.70" y1="378.00" x2="359.70" y2="378.00" stroke="#222" stroke-width="0.8" />
<text x="357.80" y="380.50" font-size="7.0" text-anchor="end" fill="#111" stroke="#111" stroke-width="0.22" >4</text>
<line x1="357.70" y1="322.40" x2="359.70" y2="322.40" stroke="#222" stroke-width="0.8" />
<text x="357.80" y="324.90" font-size="7.0" text-anchor="end" fill="#111" stroke="#111" stroke-width="0.22" >8</text>
<line x1="406.00" y1="489.00" x2="406.00" y2="491.00" stroke="#222" stroke-width="0.8" />
<text x="406.00" y="496.50" font-size="7.7" text-anchor="middle" fill="#111" stroke="#111" stroke-width="0.22" font-style="italic">Citrobacter</text>
<line x1="482.60" y1="489.00" x2="482.60" y2="491.00" stroke="#222" stroke-width="0.8" />
<text x="482.60" y="496.50" font-size="7.7" text-anchor="middle" fill="#111" stroke="#111" stroke-width="0.22" font-style="italic">Enterobacter</text>
<line x1="559.10" y1="489.00" x2="559.10" y2="491.00" stroke="#222" stroke-width="0.8" />
<text x="559.10" y="496.50" font-size="7.7" text-anchor="middle" fill="#111" stroke="#111" stroke-width="0.22" font-style="italic">Escherichia</text>
<line x1="636.10" y1="489.00" x2="636.10" y2="491.00" stroke="#222" stroke-width="0.8" />
<text x="636.10" y="496.50" font-size="7.7" text-anchor="middle" fill="#111" stroke="#111" stroke-width="0.22" font-style="italic">Klebsiella</text>
<text x="539.10" y="508.40" font-size="9.7" text-anchor="middle" fill="#000" stroke="#000" stroke-width="0.22" >Host genera</text>
<text x="0" y="0" font-size="9.8" text-anchor="middle" transform="translate(348.6,379.2) rotate(-90)" stroke="#000" stroke-width="0.22">GC−content difference</text>
</svg></body></html>
